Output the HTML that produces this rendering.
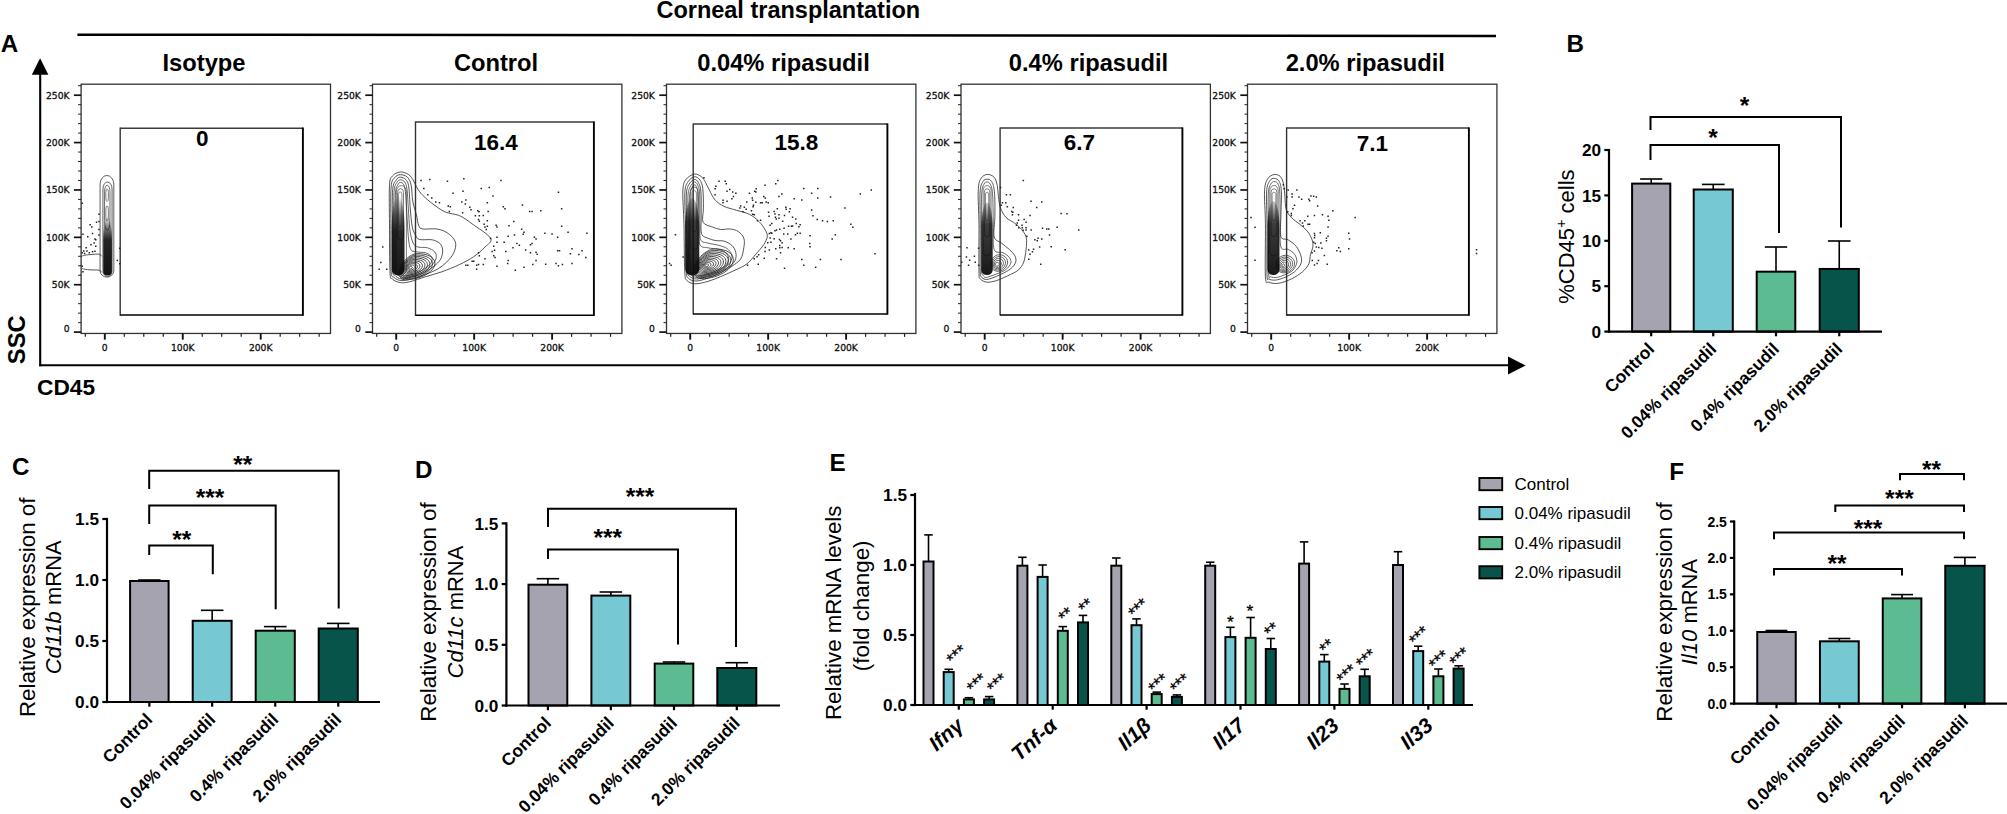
<!DOCTYPE html>
<html><head><meta charset="utf-8"><title>Figure</title>
<style>html,body{margin:0;padding:0;background:#fff;}svg{display:block}</style>
</head><body>
<svg width="2007" height="814" viewBox="0 0 2007 814">
<rect x="0" y="0" width="2007" height="814" fill="#fff"/>
<text x="0.70" y="51.90" font-family="Liberation Sans, Arial, sans-serif" font-size="24.2" font-weight="bold" font-style="normal" text-anchor="start">A</text>
<text x="788.30" y="17.80" font-family="Liberation Sans, Arial, sans-serif" font-size="23.5" font-weight="bold" font-style="normal" text-anchor="middle">Corneal transplantation</text>
<line x1="77.40" y1="34.70" x2="1496.00" y2="36.00" stroke="#000" stroke-width="2.5" stroke-linecap="butt"/>
<line x1="40.20" y1="74.00" x2="40.20" y2="366.20" stroke="#000" stroke-width="2.1" stroke-linecap="butt"/>
<line x1="39.20" y1="365.20" x2="1510.00" y2="365.30" stroke="#000" stroke-width="2.0" stroke-linecap="butt"/>
<path d="M40.1 58.2 L31.8 74.8 L48.4 74.8 Z" fill="#000" stroke="none" stroke-width="1" />
<path d="M1525.6 365.4 L1508 356.4 L1508 374.4 Z" fill="#000" stroke="none" stroke-width="1" />
<text x="24.80" y="364.20" font-family="Liberation Sans, Arial, sans-serif" font-size="23.8" font-weight="bold" font-style="normal" text-anchor="start" transform="rotate(-90 24.80 364.20)">SSC</text>
<text x="37.00" y="395.00" font-family="Liberation Sans, Arial, sans-serif" font-size="22.7" font-weight="bold" font-style="normal" text-anchor="start">CD45</text>
<text x="204.00" y="70.90" font-family="Liberation Sans, Arial, sans-serif" font-size="23.7" font-weight="bold" font-style="normal" text-anchor="middle">Isotype</text>
<rect x="81.10" y="84.20" width="249.40" height="249.25" fill="none" stroke="#333" stroke-width="1.3"/>
<line x1="73.90" y1="332.10" x2="81.10" y2="332.10" stroke="#111" stroke-width="1.7" stroke-linecap="butt"/>
<text x="69.50" y="332.40" font-family="DejaVu Sans, Liberation Sans, sans-serif" font-size="9.2" font-weight="normal" font-style="normal" text-anchor="end" fill="#111" stroke="#111" stroke-width="0.3">0</text>
<line x1="78.10" y1="322.62" x2="81.10" y2="322.62" stroke="#222" stroke-width="1.0" stroke-linecap="butt"/>
<line x1="78.10" y1="313.15" x2="81.10" y2="313.15" stroke="#222" stroke-width="1.0" stroke-linecap="butt"/>
<line x1="78.10" y1="303.67" x2="81.10" y2="303.67" stroke="#222" stroke-width="1.0" stroke-linecap="butt"/>
<line x1="78.10" y1="294.20" x2="81.10" y2="294.20" stroke="#222" stroke-width="1.0" stroke-linecap="butt"/>
<line x1="73.90" y1="284.72" x2="81.10" y2="284.72" stroke="#111" stroke-width="1.7" stroke-linecap="butt"/>
<text x="69.50" y="288.22" font-family="DejaVu Sans, Liberation Sans, sans-serif" font-size="9.2" font-weight="normal" font-style="normal" text-anchor="end" fill="#111" stroke="#111" stroke-width="0.3">50K</text>
<line x1="78.10" y1="275.24" x2="81.10" y2="275.24" stroke="#222" stroke-width="1.0" stroke-linecap="butt"/>
<line x1="78.10" y1="265.77" x2="81.10" y2="265.77" stroke="#222" stroke-width="1.0" stroke-linecap="butt"/>
<line x1="78.10" y1="256.29" x2="81.10" y2="256.29" stroke="#222" stroke-width="1.0" stroke-linecap="butt"/>
<line x1="78.10" y1="246.82" x2="81.10" y2="246.82" stroke="#222" stroke-width="1.0" stroke-linecap="butt"/>
<line x1="73.90" y1="237.34" x2="81.10" y2="237.34" stroke="#111" stroke-width="1.7" stroke-linecap="butt"/>
<text x="69.50" y="240.84" font-family="DejaVu Sans, Liberation Sans, sans-serif" font-size="9.2" font-weight="normal" font-style="normal" text-anchor="end" fill="#111" stroke="#111" stroke-width="0.3">100K</text>
<line x1="78.10" y1="227.86" x2="81.10" y2="227.86" stroke="#222" stroke-width="1.0" stroke-linecap="butt"/>
<line x1="78.10" y1="218.39" x2="81.10" y2="218.39" stroke="#222" stroke-width="1.0" stroke-linecap="butt"/>
<line x1="78.10" y1="208.91" x2="81.10" y2="208.91" stroke="#222" stroke-width="1.0" stroke-linecap="butt"/>
<line x1="78.10" y1="199.44" x2="81.10" y2="199.44" stroke="#222" stroke-width="1.0" stroke-linecap="butt"/>
<line x1="73.90" y1="189.96" x2="81.10" y2="189.96" stroke="#111" stroke-width="1.7" stroke-linecap="butt"/>
<text x="69.50" y="193.46" font-family="DejaVu Sans, Liberation Sans, sans-serif" font-size="9.2" font-weight="normal" font-style="normal" text-anchor="end" fill="#111" stroke="#111" stroke-width="0.3">150K</text>
<line x1="78.10" y1="180.48" x2="81.10" y2="180.48" stroke="#222" stroke-width="1.0" stroke-linecap="butt"/>
<line x1="78.10" y1="171.01" x2="81.10" y2="171.01" stroke="#222" stroke-width="1.0" stroke-linecap="butt"/>
<line x1="78.10" y1="161.53" x2="81.10" y2="161.53" stroke="#222" stroke-width="1.0" stroke-linecap="butt"/>
<line x1="78.10" y1="152.06" x2="81.10" y2="152.06" stroke="#222" stroke-width="1.0" stroke-linecap="butt"/>
<line x1="73.90" y1="142.58" x2="81.10" y2="142.58" stroke="#111" stroke-width="1.7" stroke-linecap="butt"/>
<text x="69.50" y="146.08" font-family="DejaVu Sans, Liberation Sans, sans-serif" font-size="9.2" font-weight="normal" font-style="normal" text-anchor="end" fill="#111" stroke="#111" stroke-width="0.3">200K</text>
<line x1="78.10" y1="133.10" x2="81.10" y2="133.10" stroke="#222" stroke-width="1.0" stroke-linecap="butt"/>
<line x1="78.10" y1="123.63" x2="81.10" y2="123.63" stroke="#222" stroke-width="1.0" stroke-linecap="butt"/>
<line x1="78.10" y1="114.15" x2="81.10" y2="114.15" stroke="#222" stroke-width="1.0" stroke-linecap="butt"/>
<line x1="78.10" y1="104.68" x2="81.10" y2="104.68" stroke="#222" stroke-width="1.0" stroke-linecap="butt"/>
<line x1="73.90" y1="95.20" x2="81.10" y2="95.20" stroke="#111" stroke-width="1.7" stroke-linecap="butt"/>
<text x="69.50" y="98.70" font-family="DejaVu Sans, Liberation Sans, sans-serif" font-size="9.2" font-weight="normal" font-style="normal" text-anchor="end" fill="#111" stroke="#111" stroke-width="0.3">250K</text>
<line x1="78.10" y1="85.72" x2="81.10" y2="85.72" stroke="#222" stroke-width="1.0" stroke-linecap="butt"/>
<line x1="85.31" y1="333.45" x2="85.31" y2="336.85" stroke="#222" stroke-width="1.2" stroke-linecap="butt"/>
<line x1="104.80" y1="333.45" x2="104.80" y2="339.65" stroke="#111" stroke-width="1.9" stroke-linecap="butt"/>
<text x="104.80" y="350.95" font-family="DejaVu Sans, Liberation Sans, sans-serif" font-size="9.2" font-weight="normal" font-style="normal" text-anchor="middle" fill="#111" stroke="#111" stroke-width="0.3">0</text>
<line x1="124.29" y1="333.45" x2="124.29" y2="336.85" stroke="#222" stroke-width="1.2" stroke-linecap="butt"/>
<line x1="143.78" y1="333.45" x2="143.78" y2="336.85" stroke="#222" stroke-width="1.2" stroke-linecap="butt"/>
<line x1="163.26" y1="333.45" x2="163.26" y2="336.85" stroke="#222" stroke-width="1.2" stroke-linecap="butt"/>
<line x1="182.75" y1="333.45" x2="182.75" y2="339.65" stroke="#111" stroke-width="1.9" stroke-linecap="butt"/>
<text x="182.75" y="350.95" font-family="DejaVu Sans, Liberation Sans, sans-serif" font-size="9.2" font-weight="normal" font-style="normal" text-anchor="middle" fill="#111" stroke="#111" stroke-width="0.3">100K</text>
<line x1="202.24" y1="333.45" x2="202.24" y2="336.85" stroke="#222" stroke-width="1.2" stroke-linecap="butt"/>
<line x1="221.72" y1="333.45" x2="221.72" y2="336.85" stroke="#222" stroke-width="1.2" stroke-linecap="butt"/>
<line x1="241.21" y1="333.45" x2="241.21" y2="336.85" stroke="#222" stroke-width="1.2" stroke-linecap="butt"/>
<line x1="260.70" y1="333.45" x2="260.70" y2="339.65" stroke="#111" stroke-width="1.9" stroke-linecap="butt"/>
<text x="260.70" y="350.95" font-family="DejaVu Sans, Liberation Sans, sans-serif" font-size="9.2" font-weight="normal" font-style="normal" text-anchor="middle" fill="#111" stroke="#111" stroke-width="0.3">200K</text>
<line x1="280.19" y1="333.45" x2="280.19" y2="336.85" stroke="#222" stroke-width="1.2" stroke-linecap="butt"/>
<line x1="299.68" y1="333.45" x2="299.68" y2="336.85" stroke="#222" stroke-width="1.2" stroke-linecap="butt"/>
<line x1="319.16" y1="333.45" x2="319.16" y2="336.85" stroke="#222" stroke-width="1.2" stroke-linecap="butt"/>
<line x1="120.20" y1="127.50" x2="120.20" y2="315.80" stroke="#333" stroke-width="1.4" stroke-linecap="butt"/>
<line x1="120.20" y1="128.20" x2="302.90" y2="128.20" stroke="#3a3a3a" stroke-width="1.5" stroke-linecap="butt"/>
<line x1="302.90" y1="127.50" x2="302.90" y2="315.85" stroke="#000" stroke-width="1.9" stroke-linecap="butt"/>
<line x1="120.20" y1="315.10" x2="302.90" y2="315.10" stroke="#000" stroke-width="1.5" stroke-linecap="butt"/>
<text x="202.20" y="145.80" font-family="Liberation Sans, Arial, sans-serif" font-size="22.5" font-weight="bold" font-style="normal" text-anchor="middle">0</text>
<text x="496.00" y="70.90" font-family="Liberation Sans, Arial, sans-serif" font-size="23.7" font-weight="bold" font-style="normal" text-anchor="middle">Control</text>
<rect x="372.50" y="84.20" width="249.40" height="249.25" fill="none" stroke="#333" stroke-width="1.3"/>
<line x1="365.30" y1="332.10" x2="372.50" y2="332.10" stroke="#111" stroke-width="1.7" stroke-linecap="butt"/>
<text x="360.90" y="332.40" font-family="DejaVu Sans, Liberation Sans, sans-serif" font-size="9.2" font-weight="normal" font-style="normal" text-anchor="end" fill="#111" stroke="#111" stroke-width="0.3">0</text>
<line x1="369.50" y1="322.62" x2="372.50" y2="322.62" stroke="#222" stroke-width="1.0" stroke-linecap="butt"/>
<line x1="369.50" y1="313.15" x2="372.50" y2="313.15" stroke="#222" stroke-width="1.0" stroke-linecap="butt"/>
<line x1="369.50" y1="303.67" x2="372.50" y2="303.67" stroke="#222" stroke-width="1.0" stroke-linecap="butt"/>
<line x1="369.50" y1="294.20" x2="372.50" y2="294.20" stroke="#222" stroke-width="1.0" stroke-linecap="butt"/>
<line x1="365.30" y1="284.72" x2="372.50" y2="284.72" stroke="#111" stroke-width="1.7" stroke-linecap="butt"/>
<text x="360.90" y="288.22" font-family="DejaVu Sans, Liberation Sans, sans-serif" font-size="9.2" font-weight="normal" font-style="normal" text-anchor="end" fill="#111" stroke="#111" stroke-width="0.3">50K</text>
<line x1="369.50" y1="275.24" x2="372.50" y2="275.24" stroke="#222" stroke-width="1.0" stroke-linecap="butt"/>
<line x1="369.50" y1="265.77" x2="372.50" y2="265.77" stroke="#222" stroke-width="1.0" stroke-linecap="butt"/>
<line x1="369.50" y1="256.29" x2="372.50" y2="256.29" stroke="#222" stroke-width="1.0" stroke-linecap="butt"/>
<line x1="369.50" y1="246.82" x2="372.50" y2="246.82" stroke="#222" stroke-width="1.0" stroke-linecap="butt"/>
<line x1="365.30" y1="237.34" x2="372.50" y2="237.34" stroke="#111" stroke-width="1.7" stroke-linecap="butt"/>
<text x="360.90" y="240.84" font-family="DejaVu Sans, Liberation Sans, sans-serif" font-size="9.2" font-weight="normal" font-style="normal" text-anchor="end" fill="#111" stroke="#111" stroke-width="0.3">100K</text>
<line x1="369.50" y1="227.86" x2="372.50" y2="227.86" stroke="#222" stroke-width="1.0" stroke-linecap="butt"/>
<line x1="369.50" y1="218.39" x2="372.50" y2="218.39" stroke="#222" stroke-width="1.0" stroke-linecap="butt"/>
<line x1="369.50" y1="208.91" x2="372.50" y2="208.91" stroke="#222" stroke-width="1.0" stroke-linecap="butt"/>
<line x1="369.50" y1="199.44" x2="372.50" y2="199.44" stroke="#222" stroke-width="1.0" stroke-linecap="butt"/>
<line x1="365.30" y1="189.96" x2="372.50" y2="189.96" stroke="#111" stroke-width="1.7" stroke-linecap="butt"/>
<text x="360.90" y="193.46" font-family="DejaVu Sans, Liberation Sans, sans-serif" font-size="9.2" font-weight="normal" font-style="normal" text-anchor="end" fill="#111" stroke="#111" stroke-width="0.3">150K</text>
<line x1="369.50" y1="180.48" x2="372.50" y2="180.48" stroke="#222" stroke-width="1.0" stroke-linecap="butt"/>
<line x1="369.50" y1="171.01" x2="372.50" y2="171.01" stroke="#222" stroke-width="1.0" stroke-linecap="butt"/>
<line x1="369.50" y1="161.53" x2="372.50" y2="161.53" stroke="#222" stroke-width="1.0" stroke-linecap="butt"/>
<line x1="369.50" y1="152.06" x2="372.50" y2="152.06" stroke="#222" stroke-width="1.0" stroke-linecap="butt"/>
<line x1="365.30" y1="142.58" x2="372.50" y2="142.58" stroke="#111" stroke-width="1.7" stroke-linecap="butt"/>
<text x="360.90" y="146.08" font-family="DejaVu Sans, Liberation Sans, sans-serif" font-size="9.2" font-weight="normal" font-style="normal" text-anchor="end" fill="#111" stroke="#111" stroke-width="0.3">200K</text>
<line x1="369.50" y1="133.10" x2="372.50" y2="133.10" stroke="#222" stroke-width="1.0" stroke-linecap="butt"/>
<line x1="369.50" y1="123.63" x2="372.50" y2="123.63" stroke="#222" stroke-width="1.0" stroke-linecap="butt"/>
<line x1="369.50" y1="114.15" x2="372.50" y2="114.15" stroke="#222" stroke-width="1.0" stroke-linecap="butt"/>
<line x1="369.50" y1="104.68" x2="372.50" y2="104.68" stroke="#222" stroke-width="1.0" stroke-linecap="butt"/>
<line x1="365.30" y1="95.20" x2="372.50" y2="95.20" stroke="#111" stroke-width="1.7" stroke-linecap="butt"/>
<text x="360.90" y="98.70" font-family="DejaVu Sans, Liberation Sans, sans-serif" font-size="9.2" font-weight="normal" font-style="normal" text-anchor="end" fill="#111" stroke="#111" stroke-width="0.3">250K</text>
<line x1="369.50" y1="85.72" x2="372.50" y2="85.72" stroke="#222" stroke-width="1.0" stroke-linecap="butt"/>
<line x1="376.71" y1="333.45" x2="376.71" y2="336.85" stroke="#222" stroke-width="1.2" stroke-linecap="butt"/>
<line x1="396.20" y1="333.45" x2="396.20" y2="339.65" stroke="#111" stroke-width="1.9" stroke-linecap="butt"/>
<text x="396.20" y="350.95" font-family="DejaVu Sans, Liberation Sans, sans-serif" font-size="9.2" font-weight="normal" font-style="normal" text-anchor="middle" fill="#111" stroke="#111" stroke-width="0.3">0</text>
<line x1="415.69" y1="333.45" x2="415.69" y2="336.85" stroke="#222" stroke-width="1.2" stroke-linecap="butt"/>
<line x1="435.18" y1="333.45" x2="435.18" y2="336.85" stroke="#222" stroke-width="1.2" stroke-linecap="butt"/>
<line x1="454.66" y1="333.45" x2="454.66" y2="336.85" stroke="#222" stroke-width="1.2" stroke-linecap="butt"/>
<line x1="474.15" y1="333.45" x2="474.15" y2="339.65" stroke="#111" stroke-width="1.9" stroke-linecap="butt"/>
<text x="474.15" y="350.95" font-family="DejaVu Sans, Liberation Sans, sans-serif" font-size="9.2" font-weight="normal" font-style="normal" text-anchor="middle" fill="#111" stroke="#111" stroke-width="0.3">100K</text>
<line x1="493.64" y1="333.45" x2="493.64" y2="336.85" stroke="#222" stroke-width="1.2" stroke-linecap="butt"/>
<line x1="513.12" y1="333.45" x2="513.12" y2="336.85" stroke="#222" stroke-width="1.2" stroke-linecap="butt"/>
<line x1="532.61" y1="333.45" x2="532.61" y2="336.85" stroke="#222" stroke-width="1.2" stroke-linecap="butt"/>
<line x1="552.10" y1="333.45" x2="552.10" y2="339.65" stroke="#111" stroke-width="1.9" stroke-linecap="butt"/>
<text x="552.10" y="350.95" font-family="DejaVu Sans, Liberation Sans, sans-serif" font-size="9.2" font-weight="normal" font-style="normal" text-anchor="middle" fill="#111" stroke="#111" stroke-width="0.3">200K</text>
<line x1="571.59" y1="333.45" x2="571.59" y2="336.85" stroke="#222" stroke-width="1.2" stroke-linecap="butt"/>
<line x1="591.08" y1="333.45" x2="591.08" y2="336.85" stroke="#222" stroke-width="1.2" stroke-linecap="butt"/>
<line x1="610.56" y1="333.45" x2="610.56" y2="336.85" stroke="#222" stroke-width="1.2" stroke-linecap="butt"/>
<line x1="415.50" y1="121.40" x2="415.50" y2="315.90" stroke="#333" stroke-width="1.4" stroke-linecap="butt"/>
<line x1="415.50" y1="122.10" x2="593.90" y2="122.10" stroke="#3a3a3a" stroke-width="1.5" stroke-linecap="butt"/>
<line x1="593.90" y1="121.40" x2="593.90" y2="315.95" stroke="#000" stroke-width="1.9" stroke-linecap="butt"/>
<line x1="415.50" y1="315.20" x2="593.90" y2="315.20" stroke="#000" stroke-width="1.5" stroke-linecap="butt"/>
<text x="496.00" y="150.00" font-family="Liberation Sans, Arial, sans-serif" font-size="22.5" font-weight="bold" font-style="normal" text-anchor="middle">16.4</text>
<text x="783.50" y="70.90" font-family="Liberation Sans, Arial, sans-serif" font-size="23.7" font-weight="bold" font-style="normal" text-anchor="middle">0.04% ripasudil</text>
<rect x="666.50" y="84.20" width="249.40" height="249.25" fill="none" stroke="#333" stroke-width="1.3"/>
<line x1="659.30" y1="332.10" x2="666.50" y2="332.10" stroke="#111" stroke-width="1.7" stroke-linecap="butt"/>
<text x="654.90" y="332.40" font-family="DejaVu Sans, Liberation Sans, sans-serif" font-size="9.2" font-weight="normal" font-style="normal" text-anchor="end" fill="#111" stroke="#111" stroke-width="0.3">0</text>
<line x1="663.50" y1="322.62" x2="666.50" y2="322.62" stroke="#222" stroke-width="1.0" stroke-linecap="butt"/>
<line x1="663.50" y1="313.15" x2="666.50" y2="313.15" stroke="#222" stroke-width="1.0" stroke-linecap="butt"/>
<line x1="663.50" y1="303.67" x2="666.50" y2="303.67" stroke="#222" stroke-width="1.0" stroke-linecap="butt"/>
<line x1="663.50" y1="294.20" x2="666.50" y2="294.20" stroke="#222" stroke-width="1.0" stroke-linecap="butt"/>
<line x1="659.30" y1="284.72" x2="666.50" y2="284.72" stroke="#111" stroke-width="1.7" stroke-linecap="butt"/>
<text x="654.90" y="288.22" font-family="DejaVu Sans, Liberation Sans, sans-serif" font-size="9.2" font-weight="normal" font-style="normal" text-anchor="end" fill="#111" stroke="#111" stroke-width="0.3">50K</text>
<line x1="663.50" y1="275.24" x2="666.50" y2="275.24" stroke="#222" stroke-width="1.0" stroke-linecap="butt"/>
<line x1="663.50" y1="265.77" x2="666.50" y2="265.77" stroke="#222" stroke-width="1.0" stroke-linecap="butt"/>
<line x1="663.50" y1="256.29" x2="666.50" y2="256.29" stroke="#222" stroke-width="1.0" stroke-linecap="butt"/>
<line x1="663.50" y1="246.82" x2="666.50" y2="246.82" stroke="#222" stroke-width="1.0" stroke-linecap="butt"/>
<line x1="659.30" y1="237.34" x2="666.50" y2="237.34" stroke="#111" stroke-width="1.7" stroke-linecap="butt"/>
<text x="654.90" y="240.84" font-family="DejaVu Sans, Liberation Sans, sans-serif" font-size="9.2" font-weight="normal" font-style="normal" text-anchor="end" fill="#111" stroke="#111" stroke-width="0.3">100K</text>
<line x1="663.50" y1="227.86" x2="666.50" y2="227.86" stroke="#222" stroke-width="1.0" stroke-linecap="butt"/>
<line x1="663.50" y1="218.39" x2="666.50" y2="218.39" stroke="#222" stroke-width="1.0" stroke-linecap="butt"/>
<line x1="663.50" y1="208.91" x2="666.50" y2="208.91" stroke="#222" stroke-width="1.0" stroke-linecap="butt"/>
<line x1="663.50" y1="199.44" x2="666.50" y2="199.44" stroke="#222" stroke-width="1.0" stroke-linecap="butt"/>
<line x1="659.30" y1="189.96" x2="666.50" y2="189.96" stroke="#111" stroke-width="1.7" stroke-linecap="butt"/>
<text x="654.90" y="193.46" font-family="DejaVu Sans, Liberation Sans, sans-serif" font-size="9.2" font-weight="normal" font-style="normal" text-anchor="end" fill="#111" stroke="#111" stroke-width="0.3">150K</text>
<line x1="663.50" y1="180.48" x2="666.50" y2="180.48" stroke="#222" stroke-width="1.0" stroke-linecap="butt"/>
<line x1="663.50" y1="171.01" x2="666.50" y2="171.01" stroke="#222" stroke-width="1.0" stroke-linecap="butt"/>
<line x1="663.50" y1="161.53" x2="666.50" y2="161.53" stroke="#222" stroke-width="1.0" stroke-linecap="butt"/>
<line x1="663.50" y1="152.06" x2="666.50" y2="152.06" stroke="#222" stroke-width="1.0" stroke-linecap="butt"/>
<line x1="659.30" y1="142.58" x2="666.50" y2="142.58" stroke="#111" stroke-width="1.7" stroke-linecap="butt"/>
<text x="654.90" y="146.08" font-family="DejaVu Sans, Liberation Sans, sans-serif" font-size="9.2" font-weight="normal" font-style="normal" text-anchor="end" fill="#111" stroke="#111" stroke-width="0.3">200K</text>
<line x1="663.50" y1="133.10" x2="666.50" y2="133.10" stroke="#222" stroke-width="1.0" stroke-linecap="butt"/>
<line x1="663.50" y1="123.63" x2="666.50" y2="123.63" stroke="#222" stroke-width="1.0" stroke-linecap="butt"/>
<line x1="663.50" y1="114.15" x2="666.50" y2="114.15" stroke="#222" stroke-width="1.0" stroke-linecap="butt"/>
<line x1="663.50" y1="104.68" x2="666.50" y2="104.68" stroke="#222" stroke-width="1.0" stroke-linecap="butt"/>
<line x1="659.30" y1="95.20" x2="666.50" y2="95.20" stroke="#111" stroke-width="1.7" stroke-linecap="butt"/>
<text x="654.90" y="98.70" font-family="DejaVu Sans, Liberation Sans, sans-serif" font-size="9.2" font-weight="normal" font-style="normal" text-anchor="end" fill="#111" stroke="#111" stroke-width="0.3">250K</text>
<line x1="663.50" y1="85.72" x2="666.50" y2="85.72" stroke="#222" stroke-width="1.0" stroke-linecap="butt"/>
<line x1="670.71" y1="333.45" x2="670.71" y2="336.85" stroke="#222" stroke-width="1.2" stroke-linecap="butt"/>
<line x1="690.20" y1="333.45" x2="690.20" y2="339.65" stroke="#111" stroke-width="1.9" stroke-linecap="butt"/>
<text x="690.20" y="350.95" font-family="DejaVu Sans, Liberation Sans, sans-serif" font-size="9.2" font-weight="normal" font-style="normal" text-anchor="middle" fill="#111" stroke="#111" stroke-width="0.3">0</text>
<line x1="709.69" y1="333.45" x2="709.69" y2="336.85" stroke="#222" stroke-width="1.2" stroke-linecap="butt"/>
<line x1="729.18" y1="333.45" x2="729.18" y2="336.85" stroke="#222" stroke-width="1.2" stroke-linecap="butt"/>
<line x1="748.66" y1="333.45" x2="748.66" y2="336.85" stroke="#222" stroke-width="1.2" stroke-linecap="butt"/>
<line x1="768.15" y1="333.45" x2="768.15" y2="339.65" stroke="#111" stroke-width="1.9" stroke-linecap="butt"/>
<text x="768.15" y="350.95" font-family="DejaVu Sans, Liberation Sans, sans-serif" font-size="9.2" font-weight="normal" font-style="normal" text-anchor="middle" fill="#111" stroke="#111" stroke-width="0.3">100K</text>
<line x1="787.64" y1="333.45" x2="787.64" y2="336.85" stroke="#222" stroke-width="1.2" stroke-linecap="butt"/>
<line x1="807.12" y1="333.45" x2="807.12" y2="336.85" stroke="#222" stroke-width="1.2" stroke-linecap="butt"/>
<line x1="826.61" y1="333.45" x2="826.61" y2="336.85" stroke="#222" stroke-width="1.2" stroke-linecap="butt"/>
<line x1="846.10" y1="333.45" x2="846.10" y2="339.65" stroke="#111" stroke-width="1.9" stroke-linecap="butt"/>
<text x="846.10" y="350.95" font-family="DejaVu Sans, Liberation Sans, sans-serif" font-size="9.2" font-weight="normal" font-style="normal" text-anchor="middle" fill="#111" stroke="#111" stroke-width="0.3">200K</text>
<line x1="865.59" y1="333.45" x2="865.59" y2="336.85" stroke="#222" stroke-width="1.2" stroke-linecap="butt"/>
<line x1="885.08" y1="333.45" x2="885.08" y2="336.85" stroke="#222" stroke-width="1.2" stroke-linecap="butt"/>
<line x1="904.56" y1="333.45" x2="904.56" y2="336.85" stroke="#222" stroke-width="1.2" stroke-linecap="butt"/>
<line x1="693.20" y1="123.40" x2="693.20" y2="314.60" stroke="#333" stroke-width="1.4" stroke-linecap="butt"/>
<line x1="693.20" y1="124.10" x2="887.40" y2="124.10" stroke="#3a3a3a" stroke-width="1.5" stroke-linecap="butt"/>
<line x1="887.40" y1="123.40" x2="887.40" y2="314.65" stroke="#000" stroke-width="1.9" stroke-linecap="butt"/>
<line x1="693.20" y1="313.90" x2="887.40" y2="313.90" stroke="#000" stroke-width="1.5" stroke-linecap="butt"/>
<text x="796.30" y="150.00" font-family="Liberation Sans, Arial, sans-serif" font-size="22.5" font-weight="bold" font-style="normal" text-anchor="middle">15.8</text>
<text x="1088.50" y="70.90" font-family="Liberation Sans, Arial, sans-serif" font-size="23.7" font-weight="bold" font-style="normal" text-anchor="middle">0.4% ripasudil</text>
<rect x="961.00" y="84.20" width="249.40" height="249.25" fill="none" stroke="#333" stroke-width="1.3"/>
<line x1="953.80" y1="332.10" x2="961.00" y2="332.10" stroke="#111" stroke-width="1.7" stroke-linecap="butt"/>
<text x="949.40" y="332.40" font-family="DejaVu Sans, Liberation Sans, sans-serif" font-size="9.2" font-weight="normal" font-style="normal" text-anchor="end" fill="#111" stroke="#111" stroke-width="0.3">0</text>
<line x1="958.00" y1="322.62" x2="961.00" y2="322.62" stroke="#222" stroke-width="1.0" stroke-linecap="butt"/>
<line x1="958.00" y1="313.15" x2="961.00" y2="313.15" stroke="#222" stroke-width="1.0" stroke-linecap="butt"/>
<line x1="958.00" y1="303.67" x2="961.00" y2="303.67" stroke="#222" stroke-width="1.0" stroke-linecap="butt"/>
<line x1="958.00" y1="294.20" x2="961.00" y2="294.20" stroke="#222" stroke-width="1.0" stroke-linecap="butt"/>
<line x1="953.80" y1="284.72" x2="961.00" y2="284.72" stroke="#111" stroke-width="1.7" stroke-linecap="butt"/>
<text x="949.40" y="288.22" font-family="DejaVu Sans, Liberation Sans, sans-serif" font-size="9.2" font-weight="normal" font-style="normal" text-anchor="end" fill="#111" stroke="#111" stroke-width="0.3">50K</text>
<line x1="958.00" y1="275.24" x2="961.00" y2="275.24" stroke="#222" stroke-width="1.0" stroke-linecap="butt"/>
<line x1="958.00" y1="265.77" x2="961.00" y2="265.77" stroke="#222" stroke-width="1.0" stroke-linecap="butt"/>
<line x1="958.00" y1="256.29" x2="961.00" y2="256.29" stroke="#222" stroke-width="1.0" stroke-linecap="butt"/>
<line x1="958.00" y1="246.82" x2="961.00" y2="246.82" stroke="#222" stroke-width="1.0" stroke-linecap="butt"/>
<line x1="953.80" y1="237.34" x2="961.00" y2="237.34" stroke="#111" stroke-width="1.7" stroke-linecap="butt"/>
<text x="949.40" y="240.84" font-family="DejaVu Sans, Liberation Sans, sans-serif" font-size="9.2" font-weight="normal" font-style="normal" text-anchor="end" fill="#111" stroke="#111" stroke-width="0.3">100K</text>
<line x1="958.00" y1="227.86" x2="961.00" y2="227.86" stroke="#222" stroke-width="1.0" stroke-linecap="butt"/>
<line x1="958.00" y1="218.39" x2="961.00" y2="218.39" stroke="#222" stroke-width="1.0" stroke-linecap="butt"/>
<line x1="958.00" y1="208.91" x2="961.00" y2="208.91" stroke="#222" stroke-width="1.0" stroke-linecap="butt"/>
<line x1="958.00" y1="199.44" x2="961.00" y2="199.44" stroke="#222" stroke-width="1.0" stroke-linecap="butt"/>
<line x1="953.80" y1="189.96" x2="961.00" y2="189.96" stroke="#111" stroke-width="1.7" stroke-linecap="butt"/>
<text x="949.40" y="193.46" font-family="DejaVu Sans, Liberation Sans, sans-serif" font-size="9.2" font-weight="normal" font-style="normal" text-anchor="end" fill="#111" stroke="#111" stroke-width="0.3">150K</text>
<line x1="958.00" y1="180.48" x2="961.00" y2="180.48" stroke="#222" stroke-width="1.0" stroke-linecap="butt"/>
<line x1="958.00" y1="171.01" x2="961.00" y2="171.01" stroke="#222" stroke-width="1.0" stroke-linecap="butt"/>
<line x1="958.00" y1="161.53" x2="961.00" y2="161.53" stroke="#222" stroke-width="1.0" stroke-linecap="butt"/>
<line x1="958.00" y1="152.06" x2="961.00" y2="152.06" stroke="#222" stroke-width="1.0" stroke-linecap="butt"/>
<line x1="953.80" y1="142.58" x2="961.00" y2="142.58" stroke="#111" stroke-width="1.7" stroke-linecap="butt"/>
<text x="949.40" y="146.08" font-family="DejaVu Sans, Liberation Sans, sans-serif" font-size="9.2" font-weight="normal" font-style="normal" text-anchor="end" fill="#111" stroke="#111" stroke-width="0.3">200K</text>
<line x1="958.00" y1="133.10" x2="961.00" y2="133.10" stroke="#222" stroke-width="1.0" stroke-linecap="butt"/>
<line x1="958.00" y1="123.63" x2="961.00" y2="123.63" stroke="#222" stroke-width="1.0" stroke-linecap="butt"/>
<line x1="958.00" y1="114.15" x2="961.00" y2="114.15" stroke="#222" stroke-width="1.0" stroke-linecap="butt"/>
<line x1="958.00" y1="104.68" x2="961.00" y2="104.68" stroke="#222" stroke-width="1.0" stroke-linecap="butt"/>
<line x1="953.80" y1="95.20" x2="961.00" y2="95.20" stroke="#111" stroke-width="1.7" stroke-linecap="butt"/>
<text x="949.40" y="98.70" font-family="DejaVu Sans, Liberation Sans, sans-serif" font-size="9.2" font-weight="normal" font-style="normal" text-anchor="end" fill="#111" stroke="#111" stroke-width="0.3">250K</text>
<line x1="958.00" y1="85.72" x2="961.00" y2="85.72" stroke="#222" stroke-width="1.0" stroke-linecap="butt"/>
<line x1="965.21" y1="333.45" x2="965.21" y2="336.85" stroke="#222" stroke-width="1.2" stroke-linecap="butt"/>
<line x1="984.70" y1="333.45" x2="984.70" y2="339.65" stroke="#111" stroke-width="1.9" stroke-linecap="butt"/>
<text x="984.70" y="350.95" font-family="DejaVu Sans, Liberation Sans, sans-serif" font-size="9.2" font-weight="normal" font-style="normal" text-anchor="middle" fill="#111" stroke="#111" stroke-width="0.3">0</text>
<line x1="1004.19" y1="333.45" x2="1004.19" y2="336.85" stroke="#222" stroke-width="1.2" stroke-linecap="butt"/>
<line x1="1023.68" y1="333.45" x2="1023.68" y2="336.85" stroke="#222" stroke-width="1.2" stroke-linecap="butt"/>
<line x1="1043.16" y1="333.45" x2="1043.16" y2="336.85" stroke="#222" stroke-width="1.2" stroke-linecap="butt"/>
<line x1="1062.65" y1="333.45" x2="1062.65" y2="339.65" stroke="#111" stroke-width="1.9" stroke-linecap="butt"/>
<text x="1062.65" y="350.95" font-family="DejaVu Sans, Liberation Sans, sans-serif" font-size="9.2" font-weight="normal" font-style="normal" text-anchor="middle" fill="#111" stroke="#111" stroke-width="0.3">100K</text>
<line x1="1082.14" y1="333.45" x2="1082.14" y2="336.85" stroke="#222" stroke-width="1.2" stroke-linecap="butt"/>
<line x1="1101.62" y1="333.45" x2="1101.62" y2="336.85" stroke="#222" stroke-width="1.2" stroke-linecap="butt"/>
<line x1="1121.11" y1="333.45" x2="1121.11" y2="336.85" stroke="#222" stroke-width="1.2" stroke-linecap="butt"/>
<line x1="1140.60" y1="333.45" x2="1140.60" y2="339.65" stroke="#111" stroke-width="1.9" stroke-linecap="butt"/>
<text x="1140.60" y="350.95" font-family="DejaVu Sans, Liberation Sans, sans-serif" font-size="9.2" font-weight="normal" font-style="normal" text-anchor="middle" fill="#111" stroke="#111" stroke-width="0.3">200K</text>
<line x1="1160.09" y1="333.45" x2="1160.09" y2="336.85" stroke="#222" stroke-width="1.2" stroke-linecap="butt"/>
<line x1="1179.58" y1="333.45" x2="1179.58" y2="336.85" stroke="#222" stroke-width="1.2" stroke-linecap="butt"/>
<line x1="1199.06" y1="333.45" x2="1199.06" y2="336.85" stroke="#222" stroke-width="1.2" stroke-linecap="butt"/>
<line x1="1000.10" y1="127.40" x2="1000.10" y2="315.60" stroke="#333" stroke-width="1.4" stroke-linecap="butt"/>
<line x1="1000.10" y1="128.10" x2="1182.40" y2="128.10" stroke="#3a3a3a" stroke-width="1.5" stroke-linecap="butt"/>
<line x1="1182.40" y1="127.40" x2="1182.40" y2="315.65" stroke="#000" stroke-width="1.9" stroke-linecap="butt"/>
<line x1="1000.10" y1="314.90" x2="1182.40" y2="314.90" stroke="#000" stroke-width="1.5" stroke-linecap="butt"/>
<text x="1079.40" y="150.00" font-family="Liberation Sans, Arial, sans-serif" font-size="22.5" font-weight="bold" font-style="normal" text-anchor="middle">6.7</text>
<text x="1365.30" y="70.90" font-family="Liberation Sans, Arial, sans-serif" font-size="23.7" font-weight="bold" font-style="normal" text-anchor="middle">2.0% ripasudil</text>
<rect x="1247.50" y="84.20" width="249.40" height="249.25" fill="none" stroke="#333" stroke-width="1.3"/>
<line x1="1240.30" y1="332.10" x2="1247.50" y2="332.10" stroke="#111" stroke-width="1.7" stroke-linecap="butt"/>
<text x="1235.90" y="332.40" font-family="DejaVu Sans, Liberation Sans, sans-serif" font-size="9.2" font-weight="normal" font-style="normal" text-anchor="end" fill="#111" stroke="#111" stroke-width="0.3">0</text>
<line x1="1244.50" y1="322.62" x2="1247.50" y2="322.62" stroke="#222" stroke-width="1.0" stroke-linecap="butt"/>
<line x1="1244.50" y1="313.15" x2="1247.50" y2="313.15" stroke="#222" stroke-width="1.0" stroke-linecap="butt"/>
<line x1="1244.50" y1="303.67" x2="1247.50" y2="303.67" stroke="#222" stroke-width="1.0" stroke-linecap="butt"/>
<line x1="1244.50" y1="294.20" x2="1247.50" y2="294.20" stroke="#222" stroke-width="1.0" stroke-linecap="butt"/>
<line x1="1240.30" y1="284.72" x2="1247.50" y2="284.72" stroke="#111" stroke-width="1.7" stroke-linecap="butt"/>
<text x="1235.90" y="288.22" font-family="DejaVu Sans, Liberation Sans, sans-serif" font-size="9.2" font-weight="normal" font-style="normal" text-anchor="end" fill="#111" stroke="#111" stroke-width="0.3">50K</text>
<line x1="1244.50" y1="275.24" x2="1247.50" y2="275.24" stroke="#222" stroke-width="1.0" stroke-linecap="butt"/>
<line x1="1244.50" y1="265.77" x2="1247.50" y2="265.77" stroke="#222" stroke-width="1.0" stroke-linecap="butt"/>
<line x1="1244.50" y1="256.29" x2="1247.50" y2="256.29" stroke="#222" stroke-width="1.0" stroke-linecap="butt"/>
<line x1="1244.50" y1="246.82" x2="1247.50" y2="246.82" stroke="#222" stroke-width="1.0" stroke-linecap="butt"/>
<line x1="1240.30" y1="237.34" x2="1247.50" y2="237.34" stroke="#111" stroke-width="1.7" stroke-linecap="butt"/>
<text x="1235.90" y="240.84" font-family="DejaVu Sans, Liberation Sans, sans-serif" font-size="9.2" font-weight="normal" font-style="normal" text-anchor="end" fill="#111" stroke="#111" stroke-width="0.3">100K</text>
<line x1="1244.50" y1="227.86" x2="1247.50" y2="227.86" stroke="#222" stroke-width="1.0" stroke-linecap="butt"/>
<line x1="1244.50" y1="218.39" x2="1247.50" y2="218.39" stroke="#222" stroke-width="1.0" stroke-linecap="butt"/>
<line x1="1244.50" y1="208.91" x2="1247.50" y2="208.91" stroke="#222" stroke-width="1.0" stroke-linecap="butt"/>
<line x1="1244.50" y1="199.44" x2="1247.50" y2="199.44" stroke="#222" stroke-width="1.0" stroke-linecap="butt"/>
<line x1="1240.30" y1="189.96" x2="1247.50" y2="189.96" stroke="#111" stroke-width="1.7" stroke-linecap="butt"/>
<text x="1235.90" y="193.46" font-family="DejaVu Sans, Liberation Sans, sans-serif" font-size="9.2" font-weight="normal" font-style="normal" text-anchor="end" fill="#111" stroke="#111" stroke-width="0.3">150K</text>
<line x1="1244.50" y1="180.48" x2="1247.50" y2="180.48" stroke="#222" stroke-width="1.0" stroke-linecap="butt"/>
<line x1="1244.50" y1="171.01" x2="1247.50" y2="171.01" stroke="#222" stroke-width="1.0" stroke-linecap="butt"/>
<line x1="1244.50" y1="161.53" x2="1247.50" y2="161.53" stroke="#222" stroke-width="1.0" stroke-linecap="butt"/>
<line x1="1244.50" y1="152.06" x2="1247.50" y2="152.06" stroke="#222" stroke-width="1.0" stroke-linecap="butt"/>
<line x1="1240.30" y1="142.58" x2="1247.50" y2="142.58" stroke="#111" stroke-width="1.7" stroke-linecap="butt"/>
<text x="1235.90" y="146.08" font-family="DejaVu Sans, Liberation Sans, sans-serif" font-size="9.2" font-weight="normal" font-style="normal" text-anchor="end" fill="#111" stroke="#111" stroke-width="0.3">200K</text>
<line x1="1244.50" y1="133.10" x2="1247.50" y2="133.10" stroke="#222" stroke-width="1.0" stroke-linecap="butt"/>
<line x1="1244.50" y1="123.63" x2="1247.50" y2="123.63" stroke="#222" stroke-width="1.0" stroke-linecap="butt"/>
<line x1="1244.50" y1="114.15" x2="1247.50" y2="114.15" stroke="#222" stroke-width="1.0" stroke-linecap="butt"/>
<line x1="1244.50" y1="104.68" x2="1247.50" y2="104.68" stroke="#222" stroke-width="1.0" stroke-linecap="butt"/>
<line x1="1240.30" y1="95.20" x2="1247.50" y2="95.20" stroke="#111" stroke-width="1.7" stroke-linecap="butt"/>
<text x="1235.90" y="98.70" font-family="DejaVu Sans, Liberation Sans, sans-serif" font-size="9.2" font-weight="normal" font-style="normal" text-anchor="end" fill="#111" stroke="#111" stroke-width="0.3">250K</text>
<line x1="1244.50" y1="85.72" x2="1247.50" y2="85.72" stroke="#222" stroke-width="1.0" stroke-linecap="butt"/>
<line x1="1251.71" y1="333.45" x2="1251.71" y2="336.85" stroke="#222" stroke-width="1.2" stroke-linecap="butt"/>
<line x1="1271.20" y1="333.45" x2="1271.20" y2="339.65" stroke="#111" stroke-width="1.9" stroke-linecap="butt"/>
<text x="1271.20" y="350.95" font-family="DejaVu Sans, Liberation Sans, sans-serif" font-size="9.2" font-weight="normal" font-style="normal" text-anchor="middle" fill="#111" stroke="#111" stroke-width="0.3">0</text>
<line x1="1290.69" y1="333.45" x2="1290.69" y2="336.85" stroke="#222" stroke-width="1.2" stroke-linecap="butt"/>
<line x1="1310.17" y1="333.45" x2="1310.17" y2="336.85" stroke="#222" stroke-width="1.2" stroke-linecap="butt"/>
<line x1="1329.66" y1="333.45" x2="1329.66" y2="336.85" stroke="#222" stroke-width="1.2" stroke-linecap="butt"/>
<line x1="1349.15" y1="333.45" x2="1349.15" y2="339.65" stroke="#111" stroke-width="1.9" stroke-linecap="butt"/>
<text x="1349.15" y="350.95" font-family="DejaVu Sans, Liberation Sans, sans-serif" font-size="9.2" font-weight="normal" font-style="normal" text-anchor="middle" fill="#111" stroke="#111" stroke-width="0.3">100K</text>
<line x1="1368.64" y1="333.45" x2="1368.64" y2="336.85" stroke="#222" stroke-width="1.2" stroke-linecap="butt"/>
<line x1="1388.12" y1="333.45" x2="1388.12" y2="336.85" stroke="#222" stroke-width="1.2" stroke-linecap="butt"/>
<line x1="1407.61" y1="333.45" x2="1407.61" y2="336.85" stroke="#222" stroke-width="1.2" stroke-linecap="butt"/>
<line x1="1427.10" y1="333.45" x2="1427.10" y2="339.65" stroke="#111" stroke-width="1.9" stroke-linecap="butt"/>
<text x="1427.10" y="350.95" font-family="DejaVu Sans, Liberation Sans, sans-serif" font-size="9.2" font-weight="normal" font-style="normal" text-anchor="middle" fill="#111" stroke="#111" stroke-width="0.3">200K</text>
<line x1="1446.59" y1="333.45" x2="1446.59" y2="336.85" stroke="#222" stroke-width="1.2" stroke-linecap="butt"/>
<line x1="1466.08" y1="333.45" x2="1466.08" y2="336.85" stroke="#222" stroke-width="1.2" stroke-linecap="butt"/>
<line x1="1485.56" y1="333.45" x2="1485.56" y2="336.85" stroke="#222" stroke-width="1.2" stroke-linecap="butt"/>
<line x1="1286.60" y1="127.40" x2="1286.60" y2="315.70" stroke="#333" stroke-width="1.4" stroke-linecap="butt"/>
<line x1="1286.60" y1="128.10" x2="1468.90" y2="128.10" stroke="#3a3a3a" stroke-width="1.5" stroke-linecap="butt"/>
<line x1="1468.90" y1="127.40" x2="1468.90" y2="315.75" stroke="#000" stroke-width="1.9" stroke-linecap="butt"/>
<line x1="1286.60" y1="315.00" x2="1468.90" y2="315.00" stroke="#000" stroke-width="1.5" stroke-linecap="butt"/>
<text x="1372.50" y="151.00" font-family="Liberation Sans, Arial, sans-serif" font-size="22.5" font-weight="bold" font-style="normal" text-anchor="middle">7.1</text>
<path d="M100.07 183.95 A6.87 8.78 0 0 1 113.80 183.95 L113.80 270.98 A6.87 6.39 0 0 1 100.07 270.98 Z" fill="none" stroke="#2a2a2a" stroke-width="0.75" stroke-opacity="1.0" fill-opacity="1.0"/>
<path d="M102.94 189.22 A4.55 7.19 0 0 1 112.05 189.22 L112.05 271.46 A4.55 4.79 0 0 1 102.94 271.46 Z" fill="none" stroke="#2a2a2a" stroke-width="0.75" stroke-opacity="1.0" fill-opacity="1.0"/>
<path d="M104.54 191.62 A2.71 6.39 0 0 1 109.97 191.62 L109.97 220.68 A2.71 9.58 0 0 1 104.54 220.68 Z" fill="none" stroke="#2a2a2a" stroke-width="0.75" stroke-opacity="0.9" fill-opacity="1.0"/>
<path d="M105.82 192.42 A1.28 3.99 0 0 1 108.37 192.42 L108.37 197.84 A1.28 3.99 0 0 1 105.82 197.84 Z" fill="none" stroke="#2a2a2a" stroke-width="0.75" stroke-opacity="0.8" fill-opacity="1.0"/>
<path d="M105.82 209.50 A1.28 3.99 0 0 1 108.37 209.50 L108.37 217.49 A1.28 3.99 0 0 1 105.82 217.49 Z" fill="none" stroke="#2a2a2a" stroke-width="0.75" stroke-opacity="0.8" fill-opacity="1.0"/>
<defs><linearGradient id="g1" x1="0" y1="0" x2="0" y2="1"><stop offset="0" stop-color="#0c0c0c" stop-opacity="0.0"/><stop offset="0.2" stop-color="#0c0c0c" stop-opacity="0.55"/><stop offset="0.4" stop-color="#0c0c0c" stop-opacity="0.9"/><stop offset="1" stop-color="#0c0c0c" stop-opacity="0.97"/></linearGradient></defs>
<path d="M103.26 241.44 A4.31 25.55 0 0 1 111.89 241.44 L111.89 271.57 A4.31 3.88 0 0 1 103.26 271.57 Z" fill="url(#g1)" stroke="none" stroke-width="1" />
<path d="M81.7 256.3 C82.2 256.1 83.0 255.6 84.6 255.3 C86.1 255.0 88.6 254.7 91.0 254.5 C93.4 254.3 97.1 253.9 99.0 254.2 C100.8 254.5 101.3 255.9 101.8 256.3" fill="none" stroke="#2a2a2a" stroke-width="0.8" stroke-opacity="1.0"/>
<path d="M81.7 268.3 C82.2 268.4 83.0 269.0 84.6 269.2 C86.1 269.5 88.6 269.7 91.0 269.9 C93.4 270.0 97.1 269.8 99.0 270.2 C100.8 270.6 101.3 271.9 101.8 272.3" fill="none" stroke="#2a2a2a" stroke-width="0.8" stroke-opacity="1.0"/>
<path d="M81.4 202.4h1.5v1.5h-1.5zM98.2 213.5h1.5v1.5h-1.5zM89.4 223.9h1.5v1.5h-1.5zM95.8 221.5h1.5v1.5h-1.5zM91.0 226.3h1.5v1.5h-1.5zM98.2 220.7h1.5v1.5h-1.5zM98.2 228.7h1.5v1.5h-1.5zM82.2 233.5h1.5v1.5h-1.5zM91.8 232.7h1.5v1.5h-1.5zM98.2 234.3h1.5v1.5h-1.5zM87.0 235.9h1.5v1.5h-1.5zM94.2 238.3h1.5v1.5h-1.5zM95.0 239.1h1.5v1.5h-1.5zM93.4 242.3h1.5v1.5h-1.5zM90.2 243.9h1.5v1.5h-1.5zM95.0 245.5h1.5v1.5h-1.5zM85.4 247.1h1.5v1.5h-1.5zM83.0 250.3h1.5v1.5h-1.5zM86.2 250.3h1.5v1.5h-1.5zM81.4 251.9h1.5v1.5h-1.5zM91.8 251.1h1.5v1.5h-1.5zM94.2 250.6h1.5v1.5h-1.5zM116.6 259.8h1.5v1.5h-1.5zM119.0 247.6h1.5v1.5h-1.5zM119.0 263.0h1.5v1.5h-1.5zM81.4 265.4h1.5v1.5h-1.5zM82.2 271.0h1.5v1.5h-1.5zM83.8 252.7h1.5v1.5h-1.5zM88.6 251.9h1.5v1.5h-1.5z" fill="#222" stroke="none" stroke-width="1" />
<path d="M400.3 172.0 C403.0 171.7 406.2 173.0 408.3 174.4 C410.5 175.7 411.8 178.0 413.1 180.0 C414.4 182.0 415.0 184.1 416.3 186.3 C417.6 188.6 418.7 190.9 421.1 193.5 C423.5 196.2 426.7 199.3 430.7 202.3 C434.7 205.4 440.3 209.7 445.0 211.9 C449.8 214.1 454.9 213.6 459.4 215.6 C463.9 217.6 467.0 220.1 472.2 223.9 C477.4 227.7 488.4 234.4 490.6 238.2 C492.7 242.1 487.8 244.0 485.0 247.0 C482.2 250.1 478.1 253.7 473.8 256.6 C469.5 259.5 464.7 262.1 459.4 264.6 C454.1 267.1 447.4 269.8 441.9 271.8 C436.3 273.8 431.2 274.9 425.9 276.6 C420.6 278.2 414.2 280.7 409.9 281.7 C405.7 282.7 403.3 283.1 400.3 282.6 C397.4 282.2 394.1 280.8 392.4 279.0 C390.6 277.2 390.4 281.0 390.0 271.8 C389.5 262.6 389.6 238.2 389.5 223.9 C389.4 209.5 389.0 193.5 389.5 185.5 C390.0 177.6 390.5 178.2 392.4 176.0 C394.2 173.7 397.7 172.2 400.3 172.0 Z" fill="none" stroke="#2a2a2a" stroke-width="0.8" stroke-opacity="1.0"/>
<path d="M416.3 214.3 C417.3 218.3 417.6 223.0 418.7 225.5 C419.8 227.9 419.6 228.4 422.7 229.0 C425.8 229.6 432.8 228.2 437.1 229.0 C441.3 229.7 445.2 231.2 448.2 233.5 C451.3 235.7 454.5 239.0 455.4 242.2 C456.4 245.4 455.3 249.3 453.8 252.6 C452.4 255.9 449.4 259.4 446.6 262.2 C443.9 265.0 440.5 267.4 437.1 269.4 C433.6 271.4 429.3 272.8 425.9 274.2 C422.4 275.6 420.3 276.8 416.3 277.8 C412.3 278.9 405.7 280.6 401.9 280.6 C398.2 280.5 395.8 279.1 394.0 277.4 C392.1 275.6 391.6 279.1 391.1 270.2 C390.6 261.3 390.9 237.7 390.9 223.9 C390.9 210.0 390.4 194.9 391.1 187.1 C391.7 179.4 393.2 179.6 394.8 177.6 C396.3 175.5 398.2 174.7 400.3 174.7 C402.5 174.6 405.7 175.4 407.5 177.2 C409.3 179.1 410.3 181.5 411.2 185.5 C412.1 189.6 411.9 196.7 412.8 201.5 C413.6 206.3 415.3 210.3 416.3 214.3 Z" fill="none" stroke="#2a2a2a" stroke-width="0.8" stroke-opacity="1.0"/>
<path d="M415.5 235.0 C416.7 237.1 416.7 238.7 419.5 239.5 C422.3 240.3 428.8 239.1 432.3 239.8 C435.7 240.6 438.5 242.0 440.3 243.8 C442.0 245.7 442.7 248.4 442.7 251.0 C442.7 253.7 441.7 257.3 440.3 259.8 C438.8 262.3 436.5 264.1 433.9 266.2 C431.2 268.3 427.5 270.9 424.3 272.6 C421.1 274.3 418.4 275.2 414.7 276.2 C411.0 277.3 405.3 279.1 401.9 279.0 C398.6 278.8 396.3 277.0 394.8 275.3 C393.2 273.6 392.9 277.2 392.5 268.6 C392.1 260.0 392.3 237.0 392.4 223.9 C392.4 210.7 392.0 196.9 392.7 189.5 C393.3 182.2 395.1 182.0 396.3 180.0 C397.6 177.9 398.7 177.3 400.3 177.2 C401.9 177.2 404.5 178.0 405.9 179.6 C407.3 181.3 408.1 182.4 408.8 187.1 C409.5 191.9 409.7 201.3 410.2 207.9 C410.8 214.6 411.4 222.5 412.3 227.1 C413.2 231.6 414.3 233.0 415.5 235.0 Z" fill="none" stroke="#2a2a2a" stroke-width="0.8" stroke-opacity="1.0"/>
<path d="M413.1 243.0 C414.4 245.8 415.5 246.2 417.9 247.0 C420.3 247.8 424.7 247.0 427.5 247.8 C430.3 248.6 433.2 250.2 434.7 251.8 C436.1 253.4 436.5 255.4 436.3 257.4 C436.0 259.4 434.8 261.7 433.1 263.8 C431.3 265.9 428.7 268.4 425.9 270.2 C423.1 272.0 420.0 273.4 416.3 274.7 C412.6 275.9 406.9 277.7 403.5 277.5 C400.2 277.4 397.9 275.4 396.3 273.7 C394.8 271.9 394.4 275.3 394.0 267.0 C393.5 258.7 393.8 236.5 393.8 223.9 C393.8 211.2 393.6 198.1 394.1 191.1 C394.7 184.2 396.1 184.2 397.1 182.4 C398.2 180.5 399.1 179.9 400.3 179.8 C401.6 179.7 403.5 180.4 404.7 182.0 C405.8 183.7 406.4 185.2 407.0 189.5 C407.7 193.9 407.8 201.1 408.3 207.9 C408.8 214.7 409.1 224.4 409.9 230.3 C410.7 236.1 411.8 240.2 413.1 243.0 Z" fill="none" stroke="#2a2a2a" stroke-width="0.8" stroke-opacity="0.9"/>
<path d="M410.7 249.4 C412.0 251.9 413.8 251.2 416.3 251.8 C418.8 252.4 423.4 252.1 425.9 252.9 C428.4 253.7 430.5 255.1 431.5 256.6 C432.4 258.2 432.4 260.3 431.5 262.2 C430.5 264.1 428.4 266.0 425.9 267.8 C423.4 269.6 419.9 271.7 416.3 273.1 C412.7 274.4 407.5 276.1 404.3 275.9 C401.2 275.7 399.0 273.5 397.5 271.8 C395.9 270.0 395.6 273.4 395.2 265.4 C394.8 257.4 395.0 236.0 395.1 223.9 C395.1 211.8 395.1 199.3 395.5 192.7 C396.0 186.2 397.1 186.5 397.9 184.8 C398.7 183.0 399.4 182.4 400.3 182.4 C401.3 182.3 402.7 182.8 403.5 184.4 C404.4 186.0 404.9 187.5 405.4 191.9 C406.0 196.4 406.2 203.6 406.7 211.1 C407.2 218.5 407.7 230.3 408.3 236.6 C409.0 243.0 409.4 246.9 410.7 249.4 Z" fill="none" stroke="#2a2a2a" stroke-width="0.8" stroke-opacity="0.9"/>
<path d="M434.2 266.7 C433.2 268.8 431.0 271.3 428.3 273.2 C425.5 275.1 421.6 276.9 417.9 278.0 C414.2 279.1 408.7 279.8 405.9 279.8 C403.1 279.8 402.3 279.1 401.1 278.0 C400.0 276.9 399.3 275.1 399.2 273.2 C399.1 271.3 399.7 268.8 400.7 266.7 C401.6 264.5 403.3 262.0 405.1 260.1 C406.9 258.2 409.2 256.4 411.4 255.3 C413.5 254.2 414.9 253.6 417.7 253.6 C420.5 253.6 425.4 254.2 428.1 255.3 C430.9 256.4 433.1 258.2 434.1 260.1 C435.2 262.0 435.2 264.5 434.2 266.7 Z" fill="none" stroke="#2a2a2a" stroke-width="0.85" stroke-opacity="1.0"/>
<path d="M431.8 266.8 C430.9 268.8 428.9 271.0 426.4 272.7 C424.0 274.4 420.5 276.0 417.1 277.0 C413.8 278.0 408.9 278.6 406.3 278.6 C403.8 278.6 403.0 278.0 402.0 277.0 C401.0 276.0 400.4 274.4 400.3 272.7 C400.2 271.0 400.7 268.8 401.6 266.8 C402.5 264.8 404.0 262.6 405.6 260.9 C407.2 259.2 409.3 257.6 411.2 256.6 C413.1 255.6 414.4 255.0 416.9 255.0 C419.5 255.0 423.8 255.6 426.3 256.6 C428.8 257.6 430.8 259.2 431.7 260.9 C432.6 262.6 432.6 264.8 431.8 266.8 Z" fill="none" stroke="#2a2a2a" stroke-width="0.85" stroke-opacity="1.0"/>
<path d="M429.3 266.9 C428.6 268.7 426.8 270.6 424.6 272.2 C422.4 273.7 419.3 275.1 416.3 276.0 C413.3 276.9 409.0 277.4 406.7 277.4 C404.5 277.4 403.8 276.9 402.9 276.0 C402.0 275.1 401.4 273.7 401.4 272.2 C401.3 270.6 401.7 268.7 402.5 266.9 C403.3 265.2 404.6 263.2 406.1 261.7 C407.5 260.2 409.4 258.7 411.1 257.9 C412.7 257.0 413.9 256.4 416.2 256.4 C418.4 256.4 422.3 257.0 424.5 257.9 C426.7 258.7 428.5 260.2 429.3 261.7 C430.1 263.2 430.1 265.2 429.3 266.9 Z" fill="none" stroke="#2a2a2a" stroke-width="0.85" stroke-opacity="1.0"/>
<path d="M426.9 267.0 C426.2 268.6 424.7 270.3 422.8 271.6 C420.9 273.0 418.1 274.2 415.5 275.0 C412.9 275.8 409.1 276.2 407.1 276.2 C405.2 276.2 404.6 275.8 403.8 275.0 C403.0 274.2 402.5 273.0 402.4 271.6 C402.4 270.3 402.7 268.6 403.4 267.0 C404.1 265.5 405.3 263.8 406.5 262.5 C407.8 261.1 409.4 259.9 410.9 259.1 C412.4 258.3 413.4 257.9 415.4 257.9 C417.3 257.9 420.7 258.3 422.7 259.1 C424.6 259.9 426.2 261.1 426.9 262.5 C427.6 263.8 427.6 265.5 426.9 267.0 Z" fill="none" stroke="#2a2a2a" stroke-width="0.85" stroke-opacity="1.0"/>
<path d="M424.5 267.2 C423.9 268.5 422.5 270.0 420.9 271.1 C419.3 272.2 416.9 273.3 414.7 274.0 C412.5 274.6 409.2 275.0 407.5 275.0 C405.9 275.0 405.3 274.6 404.7 274.0 C404.0 273.3 403.5 272.2 403.5 271.1 C403.4 270.0 403.8 268.5 404.4 267.2 C405.0 265.9 406.0 264.4 407.0 263.2 C408.1 262.1 409.5 261.0 410.8 260.4 C412.0 259.7 412.9 259.3 414.6 259.3 C416.3 259.3 419.2 259.7 420.8 260.4 C422.5 261.0 423.8 262.1 424.5 263.2 C425.1 264.4 425.1 265.9 424.5 267.2 Z" fill="none" stroke="#2a2a2a" stroke-width="0.85" stroke-opacity="1.0"/>
<path d="M422.1 267.3 C421.6 268.4 420.4 269.6 419.1 270.6 C417.7 271.5 415.8 272.4 413.9 273.0 C412.1 273.5 409.3 273.9 407.9 273.9 C406.5 273.9 406.1 273.5 405.5 273.0 C405.0 272.4 404.6 271.5 404.6 270.6 C404.5 269.6 404.8 268.4 405.3 267.3 C405.8 266.2 406.6 265.0 407.5 264.0 C408.4 263.1 409.6 262.2 410.6 261.6 C411.7 261.1 412.4 260.8 413.8 260.8 C415.2 260.8 417.7 261.1 419.0 261.6 C420.4 262.2 421.5 263.1 422.0 264.0 C422.5 265.0 422.5 266.2 422.1 267.3 Z" fill="none" stroke="#2a2a2a" stroke-width="0.85" stroke-opacity="1.0"/>
<path d="M419.6 267.4 C419.2 268.3 418.3 269.3 417.3 270.1 C416.2 270.8 414.6 271.5 413.1 272.0 C411.6 272.4 409.4 272.7 408.3 272.7 C407.2 272.7 406.9 272.4 406.4 272.0 C406.0 271.5 405.7 270.8 405.6 270.1 C405.6 269.3 405.8 268.3 406.2 267.4 C406.6 266.6 407.3 265.6 408.0 264.8 C408.7 264.1 409.7 263.3 410.5 262.9 C411.3 262.5 411.9 262.2 413.0 262.2 C414.2 262.2 416.1 262.5 417.2 262.9 C418.3 263.3 419.2 264.1 419.6 264.8 C420.0 265.6 420.0 266.6 419.6 267.4 Z" fill="none" stroke="#2a2a2a" stroke-width="0.85" stroke-opacity="1.0"/>
<path d="M417.2 267.6 C416.9 268.2 416.2 269.0 415.4 269.5 C414.6 270.1 413.4 270.6 412.3 271.0 C411.2 271.3 409.6 271.5 408.7 271.5 C407.9 271.5 407.6 271.3 407.3 271.0 C407.0 270.6 406.7 270.1 406.7 269.5 C406.7 269.0 406.8 268.2 407.1 267.6 C407.4 266.9 407.9 266.2 408.5 265.6 C409.0 265.0 409.7 264.5 410.3 264.2 C411.0 263.8 411.4 263.6 412.3 263.6 C413.1 263.6 414.6 263.8 415.4 264.2 C416.2 264.5 416.9 265.0 417.2 265.6 C417.5 266.2 417.5 266.9 417.2 267.6 Z" fill="none" stroke="#2a2a2a" stroke-width="0.85" stroke-opacity="1.0"/>
<path d="M414.8 267.7 C414.6 268.1 414.1 268.6 413.6 269.0 C413.0 269.4 412.3 269.7 411.5 270.0 C410.8 270.2 409.7 270.3 409.1 270.3 C408.6 270.3 408.4 270.2 408.2 270.0 C407.9 269.7 407.8 269.4 407.8 269.0 C407.8 268.6 407.9 268.1 408.1 267.7 C408.3 267.3 408.6 266.8 409.0 266.4 C409.3 266.0 409.8 265.6 410.2 265.4 C410.6 265.2 410.9 265.1 411.5 265.1 C412.0 265.1 413.0 265.2 413.6 265.4 C414.1 265.6 414.6 266.0 414.8 266.4 C415.0 266.8 415.0 267.3 414.8 267.7 Z" fill="none" stroke="#2a2a2a" stroke-width="0.85" stroke-opacity="1.0"/>
<path d="M412.3 267.8 C412.2 268.0 412.0 268.3 411.8 268.5 C411.5 268.7 411.1 268.8 410.7 269.0 C410.3 269.1 409.8 269.1 409.5 269.1 C409.2 269.1 409.2 269.1 409.0 269.0 C408.9 268.8 408.9 268.7 408.8 268.5 C408.8 268.3 408.9 268.0 409.0 267.8 C409.1 267.6 409.3 267.4 409.4 267.2 C409.6 267.0 409.9 266.8 410.1 266.7 C410.3 266.6 410.4 266.5 410.7 266.5 C411.0 266.5 411.5 266.6 411.7 266.7 C412.0 266.8 412.2 267.0 412.3 267.2 C412.4 267.4 412.4 267.6 412.3 267.8 Z" fill="none" stroke="#2a2a2a" stroke-width="0.85" stroke-opacity="1.0"/>
<path d="M396.35 191.84 A5.03 6.29 0 0 1 406.41 191.84 L406.41 269.90 A5.03 4.28 0 0 1 396.35 269.90 Z" fill="none" stroke="#2a2a2a" stroke-width="0.75" stroke-opacity="0.8" fill-opacity="1.0"/>
<path d="M397.47 192.53 A3.03 3.79 0 0 1 403.53 192.53 L403.53 237.26 A3.03 2.58 0 0 1 397.47 237.26 Z" fill="none" stroke="#2a2a2a" stroke-width="0.75" stroke-opacity="0.8" fill-opacity="1.0"/>
<path d="M398.42 194.13 A1.76 2.20 0 0 1 401.94 194.13 L401.94 225.57 A1.76 1.49 0 0 1 398.42 225.57 Z" fill="none" stroke="#2a2a2a" stroke-width="0.75" stroke-opacity="0.7" fill-opacity="1.0"/>
<defs><linearGradient id="g2" x1="0" y1="0" x2="0" y2="1"><stop offset="0" stop-color="#0c0c0c" stop-opacity="0.0"/><stop offset="0.25" stop-color="#0c0c0c" stop-opacity="0.6"/><stop offset="0.45" stop-color="#0c0c0c" stop-opacity="0.88"/><stop offset="1" stop-color="#0c0c0c" stop-opacity="0.95"/></linearGradient></defs>
<path d="M391.72 226.27 A6.39 31.94 0 0 1 404.49 226.27 L404.49 269.86 A6.39 5.75 0 0 1 391.72 269.86 Z" fill="url(#g2)" stroke="none" stroke-width="1" />
<path d="M420.3 179.7h1.5v1.5h-1.5zM429.1 178.7h1.5v1.5h-1.5zM446.7 180.5h1.5v1.5h-1.5zM463.1 177.9h1.5v1.5h-1.5zM500.2 179.7h1.5v1.5h-1.5zM423.1 187.7h1.5v1.5h-1.5zM452.3 192.5h1.5v1.5h-1.5zM462.3 190.4h1.5v1.5h-1.5zM480.5 187.7h1.5v1.5h-1.5zM488.5 186.7h1.5v1.5h-1.5zM557.7 191.5h1.5v1.5h-1.5zM427.1 194.1h1.5v1.5h-1.5zM431.0 197.3h1.5v1.5h-1.5zM492.2 195.3h1.5v1.5h-1.5zM435.0 201.2h1.5v1.5h-1.5zM438.7 202.0h1.5v1.5h-1.5zM461.1 201.2h1.5v1.5h-1.5zM465.1 199.2h1.5v1.5h-1.5zM464.6 203.2h1.5v1.5h-1.5zM486.6 202.0h1.5v1.5h-1.5zM521.7 204.3h1.5v1.5h-1.5zM447.5 205.2h1.5v1.5h-1.5zM449.6 206.0h1.5v1.5h-1.5zM469.1 206.4h1.5v1.5h-1.5zM470.2 209.1h1.5v1.5h-1.5zM502.6 206.0h1.5v1.5h-1.5zM504.2 208.0h1.5v1.5h-1.5zM560.9 208.0h1.5v1.5h-1.5zM448.6 210.7h1.5v1.5h-1.5zM461.9 211.9h1.5v1.5h-1.5zM477.0 210.0h1.5v1.5h-1.5zM478.3 211.1h1.5v1.5h-1.5zM487.4 210.8h1.5v1.5h-1.5zM528.9 210.8h1.5v1.5h-1.5zM531.3 210.8h1.5v1.5h-1.5zM540.1 210.0h1.5v1.5h-1.5zM474.6 215.1h1.5v1.5h-1.5zM478.6 215.1h1.5v1.5h-1.5zM482.6 214.8h1.5v1.5h-1.5zM477.8 218.7h1.5v1.5h-1.5zM478.6 220.4h1.5v1.5h-1.5zM486.6 219.9h1.5v1.5h-1.5zM513.0 220.7h1.5v1.5h-1.5zM483.4 223.6h1.5v1.5h-1.5zM484.2 226.3h1.5v1.5h-1.5zM486.6 225.5h1.5v1.5h-1.5zM495.4 224.4h1.5v1.5h-1.5zM496.2 226.3h1.5v1.5h-1.5zM508.2 225.0h1.5v1.5h-1.5zM560.9 225.5h1.5v1.5h-1.5zM520.9 228.4h1.5v1.5h-1.5zM485.5 228.7h1.5v1.5h-1.5zM523.3 231.6h1.5v1.5h-1.5zM522.5 233.5h1.5v1.5h-1.5zM544.1 232.4h1.5v1.5h-1.5zM551.3 233.2h1.5v1.5h-1.5zM567.3 231.4h1.5v1.5h-1.5zM586.1 232.4h1.5v1.5h-1.5zM489.8 237.8h1.5v1.5h-1.5zM496.2 236.4h1.5v1.5h-1.5zM507.4 235.6h1.5v1.5h-1.5zM513.8 234.3h1.5v1.5h-1.5zM533.7 236.4h1.5v1.5h-1.5zM535.3 238.3h1.5v1.5h-1.5zM556.9 236.4h1.5v1.5h-1.5zM496.2 241.5h1.5v1.5h-1.5zM503.4 241.5h1.5v1.5h-1.5zM516.2 242.8h1.5v1.5h-1.5zM518.6 244.4h1.5v1.5h-1.5zM529.7 243.9h1.5v1.5h-1.5zM531.3 242.8h1.5v1.5h-1.5zM493.0 245.5h1.5v1.5h-1.5zM512.2 247.1h1.5v1.5h-1.5zM524.9 249.2h1.5v1.5h-1.5zM491.4 250.7h1.5v1.5h-1.5zM493.8 249.5h1.5v1.5h-1.5zM505.0 250.7h1.5v1.5h-1.5zM529.7 251.9h1.5v1.5h-1.5zM535.3 251.5h1.5v1.5h-1.5zM536.4 253.5h1.5v1.5h-1.5zM556.9 249.9h1.5v1.5h-1.5zM558.8 249.9h1.5v1.5h-1.5zM571.2 247.9h1.5v1.5h-1.5zM581.3 249.9h1.5v1.5h-1.5zM477.8 251.9h1.5v1.5h-1.5zM478.6 255.1h1.5v1.5h-1.5zM493.0 255.1h1.5v1.5h-1.5zM494.3 256.7h1.5v1.5h-1.5zM484.2 257.9h1.5v1.5h-1.5zM569.6 253.0h1.5v1.5h-1.5zM578.1 253.8h1.5v1.5h-1.5zM585.1 256.7h1.5v1.5h-1.5zM471.4 260.6h1.5v1.5h-1.5zM473.0 260.6h1.5v1.5h-1.5zM507.4 259.8h1.5v1.5h-1.5zM506.9 262.7h1.5v1.5h-1.5zM535.3 259.8h1.5v1.5h-1.5zM465.1 264.6h1.5v1.5h-1.5zM467.0 264.6h1.5v1.5h-1.5zM475.9 264.6h1.5v1.5h-1.5zM477.8 263.8h1.5v1.5h-1.5zM482.6 263.8h1.5v1.5h-1.5zM496.2 265.4h1.5v1.5h-1.5zM523.3 266.6h1.5v1.5h-1.5zM532.1 263.8h1.5v1.5h-1.5zM544.9 263.5h1.5v1.5h-1.5zM555.3 262.7h1.5v1.5h-1.5zM557.7 265.0h1.5v1.5h-1.5zM561.7 263.8h1.5v1.5h-1.5zM571.2 262.7h1.5v1.5h-1.5zM475.9 268.6h1.5v1.5h-1.5zM514.6 269.4h1.5v1.5h-1.5zM382.0 246.3h1.5v1.5h-1.5zM380.1 261.8h1.5v1.5h-1.5zM378.4 268.6h1.5v1.5h-1.5zM386.0 268.6h1.5v1.5h-1.5z" fill="#222" stroke="none" stroke-width="1" />
<path d="M694.3 174.1 C697.0 173.5 699.7 175.4 701.5 176.8 C703.4 178.2 704.2 180.1 705.5 182.4 C706.8 184.6 707.9 187.4 709.5 190.3 C711.1 193.3 712.7 197.3 715.1 199.9 C717.5 202.6 720.3 204.6 723.9 206.3 C727.5 208.0 732.4 209.0 736.6 210.3 C740.9 211.6 745.7 212.4 749.4 214.3 C753.1 216.2 756.3 218.8 759.0 221.5 C761.7 224.1 764.0 227.7 765.4 230.3 C766.8 232.8 767.6 234.3 767.3 236.6 C767.0 239.0 765.7 241.7 763.8 244.6 C761.9 247.6 758.6 251.0 755.8 254.2 C753.0 257.4 750.5 261.1 747.0 263.8 C743.6 266.5 739.4 268.1 735.0 270.2 C730.7 272.3 725.2 274.7 720.7 276.6 C716.2 278.4 712.2 280.2 707.9 281.4 C703.6 282.6 698.6 283.9 695.1 283.8 C691.7 283.6 688.9 282.6 687.1 280.6 C685.4 278.6 685.3 281.2 684.8 271.8 C684.2 262.3 684.3 237.2 684.0 223.9 C683.6 210.6 682.6 199.3 682.8 191.9 C683.1 184.6 683.6 182.9 685.5 180.0 C687.5 177.0 691.7 174.6 694.3 174.1 Z" fill="none" stroke="#2a2a2a" stroke-width="0.8" stroke-opacity="1.0"/>
<path d="M703.1 222.3 C704.7 225.5 709.8 225.9 712.7 227.1 C715.6 228.3 717.8 229.1 720.7 229.5 C723.6 229.8 727.3 228.6 730.3 229.0 C733.2 229.3 736.0 230.0 738.2 231.5 C740.5 233.1 742.9 235.5 743.8 238.2 C744.8 241.0 744.4 244.4 743.8 247.8 C743.3 251.3 742.6 255.9 740.6 259.0 C738.6 262.1 735.2 263.9 731.9 266.2 C728.5 268.4 724.7 270.6 720.7 272.6 C716.7 274.6 712.0 276.8 707.9 278.2 C703.8 279.6 699.2 281.0 695.9 281.0 C692.7 281.0 690.0 280.0 688.4 278.2 C686.8 276.4 686.8 279.2 686.3 270.2 C685.9 261.1 685.8 236.6 685.5 223.9 C685.3 211.1 684.4 200.5 684.8 193.5 C685.1 186.6 685.9 185.1 687.5 182.4 C689.1 179.6 692.3 177.2 694.3 176.8 C696.4 176.4 698.5 178.0 699.9 180.0 C701.3 182.0 702.2 184.1 702.8 188.7 C703.4 193.4 703.4 202.3 703.4 207.9 C703.5 213.5 701.6 219.1 703.1 222.3 Z" fill="none" stroke="#2a2a2a" stroke-width="0.8" stroke-opacity="1.0"/>
<path d="M701.5 233.5 C702.6 237.2 705.5 237.0 707.9 238.2 C710.3 239.4 713.2 240.2 715.9 240.6 C718.5 241.1 721.2 240.3 723.9 241.1 C726.5 241.9 729.9 243.5 731.9 245.4 C733.9 247.3 735.3 250.1 735.8 252.6 C736.4 255.1 736.2 258.2 735.0 260.6 C733.9 263.0 731.3 265.1 728.7 267.0 C726.0 268.8 722.5 270.2 719.1 271.8 C715.6 273.3 711.6 275.0 707.9 276.2 C704.2 277.4 699.8 279.0 696.7 279.0 C693.7 279.0 691.1 278.0 689.5 276.2 C688.0 274.5 687.9 277.3 687.5 268.6 C687.0 259.9 687.0 236.1 686.8 223.9 C686.6 211.6 686.0 201.7 686.3 195.1 C686.7 188.6 687.4 187.4 688.7 184.8 C690.1 182.1 692.7 179.9 694.3 179.5 C695.9 179.1 697.2 180.3 698.3 182.4 C699.4 184.4 700.4 186.3 700.9 191.9 C701.4 197.5 701.1 209.0 701.2 215.9 C701.3 222.8 700.4 229.7 701.5 233.5 Z" fill="none" stroke="#2a2a2a" stroke-width="0.8" stroke-opacity="1.0"/>
<path d="M700.7 239.8 C702.0 243.0 704.8 242.1 707.9 243.0 C711.0 244.0 715.9 244.5 719.1 245.4 C722.3 246.4 724.9 247.0 727.1 248.6 C729.2 250.2 731.3 252.7 731.9 255.0 C732.4 257.3 731.6 260.1 730.3 262.2 C728.9 264.3 726.5 266.1 723.9 267.8 C721.2 269.5 717.2 271.4 714.3 272.6 C711.4 273.8 709.2 274.2 706.3 275.0 C703.4 275.8 699.7 277.4 697.0 277.4 C694.4 277.3 692.0 276.4 690.7 274.7 C689.3 272.9 689.1 275.4 688.7 267.0 C688.3 258.5 688.4 235.6 688.3 223.9 C688.1 212.2 687.7 202.8 687.9 196.7 C688.2 190.6 689.0 189.6 690.0 187.1 C691.1 184.7 693.1 182.4 694.3 182.0 C695.6 181.6 696.6 182.8 697.5 184.8 C698.4 186.7 699.2 187.0 699.6 193.5 C700.0 200.1 699.7 216.2 699.9 223.9 C700.1 231.6 699.4 236.6 700.7 239.8 Z" fill="none" stroke="#2a2a2a" stroke-width="0.8" stroke-opacity="0.9"/>
<path d="M699.9 244.6 C701.4 248.1 704.7 247.0 707.9 247.8 C711.1 248.6 716.2 248.6 719.1 249.4 C722.0 250.2 723.9 251.2 725.5 252.6 C727.1 254.1 728.5 256.2 728.7 258.2 C728.8 260.2 727.9 262.7 726.3 264.6 C724.7 266.5 722.1 267.9 719.1 269.4 C716.0 270.9 711.5 272.6 707.9 273.7 C704.3 274.8 700.2 276.0 697.5 275.9 C694.8 275.8 692.9 274.8 691.6 273.1 C690.4 271.3 690.4 273.6 690.0 265.4 C689.7 257.2 689.6 235.0 689.5 223.9 C689.4 212.7 689.1 204.0 689.4 198.3 C689.6 192.6 690.3 191.8 691.1 189.5 C692.0 187.3 693.4 185.1 694.3 184.8 C695.3 184.4 696.1 185.7 696.7 187.5 C697.4 189.2 698.0 188.5 698.3 195.1 C698.7 201.7 698.7 218.8 699.0 227.1 C699.2 235.3 698.4 241.2 699.9 244.6 Z" fill="none" stroke="#2a2a2a" stroke-width="0.8" stroke-opacity="0.9"/>
<path d="M732.4 263.8 C731.3 266.3 728.8 269.1 725.9 271.3 C722.9 273.4 718.7 275.5 714.7 276.7 C710.8 278.0 705.0 278.7 702.0 278.7 C698.9 278.7 697.7 278.0 696.4 276.7 C695.0 275.5 694.2 273.4 694.0 271.3 C693.9 269.1 694.5 266.3 695.7 263.8 C696.8 261.3 698.7 258.5 700.8 256.3 C702.8 254.2 705.6 252.1 708.0 250.9 C710.4 249.6 712.4 248.9 715.4 248.9 C718.5 248.9 723.5 249.6 726.4 250.9 C729.2 252.1 731.6 254.2 732.6 256.3 C733.6 258.5 733.5 261.3 732.4 263.8 Z" fill="none" stroke="#2a2a2a" stroke-width="0.85" stroke-opacity="1.0"/>
<path d="M730.0 264.0 C729.0 266.2 726.8 268.8 724.1 270.7 C721.4 272.7 717.6 274.6 714.0 275.7 C710.3 276.8 705.1 277.5 702.4 277.5 C699.6 277.5 698.4 276.8 697.2 275.7 C696.0 274.6 695.2 272.7 695.1 270.7 C695.0 268.8 695.6 266.2 696.6 264.0 C697.6 261.7 699.4 259.1 701.2 257.2 C703.1 255.2 705.6 253.3 707.8 252.2 C710.0 251.1 711.8 250.4 714.6 250.4 C717.4 250.4 721.9 251.1 724.5 252.2 C727.1 253.3 729.3 255.2 730.2 257.2 C731.1 259.1 731.0 261.7 730.0 264.0 Z" fill="none" stroke="#2a2a2a" stroke-width="0.85" stroke-opacity="1.0"/>
<path d="M727.6 264.1 C726.7 266.1 724.7 268.5 722.3 270.2 C719.9 272.0 716.4 273.7 713.2 274.7 C709.9 275.7 705.2 276.3 702.7 276.3 C700.2 276.3 699.2 275.7 698.1 274.7 C697.0 273.7 696.3 272.0 696.2 270.2 C696.1 268.5 696.6 266.1 697.6 264.1 C698.5 262.1 700.0 259.8 701.7 258.0 C703.4 256.2 705.7 254.6 707.6 253.5 C709.6 252.5 711.2 251.9 713.7 251.9 C716.2 251.9 720.3 252.5 722.7 253.5 C725.0 254.6 727.0 256.2 727.8 258.0 C728.6 259.8 728.5 262.1 727.6 264.1 Z" fill="none" stroke="#2a2a2a" stroke-width="0.85" stroke-opacity="1.0"/>
<path d="M725.2 264.3 C724.4 266.1 722.6 268.1 720.5 269.7 C718.3 271.3 715.3 272.8 712.4 273.7 C709.5 274.6 705.3 275.1 703.1 275.1 C700.9 275.1 700.0 274.6 699.0 273.7 C698.0 272.8 697.4 271.3 697.3 269.7 C697.2 268.1 697.7 266.1 698.5 264.3 C699.3 262.5 700.7 260.4 702.2 258.8 C703.7 257.3 705.7 255.8 707.5 254.9 C709.2 254.0 710.6 253.4 712.9 253.4 C715.1 253.4 718.8 254.0 720.8 254.9 C722.9 255.8 724.6 257.3 725.4 258.8 C726.1 260.4 726.0 262.5 725.2 264.3 Z" fill="none" stroke="#2a2a2a" stroke-width="0.85" stroke-opacity="1.0"/>
<path d="M722.8 264.4 C722.1 266.0 720.5 267.8 718.7 269.2 C716.8 270.6 714.1 271.9 711.6 272.7 C709.1 273.5 705.4 273.9 703.5 273.9 C701.5 273.9 700.7 273.5 699.9 272.7 C699.1 271.9 698.5 270.6 698.4 269.2 C698.3 267.8 698.7 266.0 699.4 264.4 C700.2 262.8 701.4 261.1 702.7 259.7 C704.0 258.3 705.7 257.0 707.3 256.2 C708.9 255.4 710.1 254.9 712.0 254.9 C714.0 254.9 717.2 255.4 719.0 256.2 C720.8 257.0 722.3 258.3 723.0 259.7 C723.6 261.1 723.5 262.8 722.8 264.4 Z" fill="none" stroke="#2a2a2a" stroke-width="0.85" stroke-opacity="1.0"/>
<path d="M720.4 264.6 C719.8 265.9 718.5 267.5 716.9 268.7 C715.3 269.8 713.0 271.0 710.8 271.6 C708.6 272.3 705.5 272.7 703.8 272.7 C702.2 272.7 701.5 272.3 700.8 271.6 C700.1 271.0 699.6 269.8 699.5 268.7 C699.4 267.5 699.8 265.9 700.4 264.6 C701.0 263.2 702.1 261.7 703.2 260.5 C704.3 259.3 705.8 258.2 707.1 257.5 C708.5 256.9 709.5 256.4 711.2 256.4 C712.8 256.4 715.6 256.9 717.1 257.5 C718.7 258.2 720.0 259.3 720.5 260.5 C721.1 261.7 721.0 263.2 720.4 264.6 Z" fill="none" stroke="#2a2a2a" stroke-width="0.85" stroke-opacity="1.0"/>
<path d="M718.0 264.8 C717.5 265.9 716.4 267.2 715.1 268.1 C713.7 269.1 711.8 270.1 710.0 270.6 C708.2 271.2 705.6 271.5 704.2 271.5 C702.8 271.5 702.3 271.2 701.7 270.6 C701.1 270.1 700.7 269.1 700.6 268.1 C700.6 267.2 700.8 265.9 701.3 264.8 C701.8 263.6 702.7 262.3 703.7 261.4 C704.6 260.4 705.8 259.4 706.9 258.9 C708.1 258.3 708.9 258.0 710.3 258.0 C711.7 258.0 714.0 258.3 715.3 258.9 C716.6 259.4 717.7 260.4 718.1 261.4 C718.6 262.3 718.6 263.6 718.0 264.8 Z" fill="none" stroke="#2a2a2a" stroke-width="0.85" stroke-opacity="1.0"/>
<path d="M715.6 264.9 C715.2 265.8 714.3 266.8 713.3 267.6 C712.2 268.4 710.7 269.2 709.2 269.6 C707.8 270.1 705.7 270.3 704.6 270.3 C703.5 270.3 703.0 270.1 702.5 269.6 C702.1 269.2 701.7 268.4 701.7 267.6 C701.7 266.8 701.9 265.8 702.3 264.9 C702.7 264.0 703.4 263.0 704.1 262.2 C704.9 261.4 705.9 260.7 706.8 260.2 C707.7 259.8 708.4 259.5 709.5 259.5 C710.6 259.5 712.4 259.8 713.5 260.2 C714.5 260.7 715.3 261.4 715.7 262.2 C716.1 263.0 716.1 264.0 715.6 264.9 Z" fill="none" stroke="#2a2a2a" stroke-width="0.85" stroke-opacity="1.0"/>
<path d="M713.3 265.1 C712.9 265.7 712.3 266.5 711.5 267.1 C710.7 267.7 709.5 268.3 708.4 268.6 C707.3 268.9 705.8 269.1 705.0 269.1 C704.1 269.1 703.8 268.9 703.4 268.6 C703.1 268.3 702.8 267.7 702.8 267.1 C702.8 266.5 702.9 265.7 703.2 265.1 C703.5 264.4 704.1 263.6 704.6 263.0 C705.2 262.4 705.9 261.9 706.6 261.5 C707.3 261.2 707.8 261.0 708.6 261.0 C709.5 261.0 710.8 261.2 711.6 261.5 C712.4 261.9 713.0 262.4 713.3 263.0 C713.6 263.6 713.6 264.4 713.3 265.1 Z" fill="none" stroke="#2a2a2a" stroke-width="0.85" stroke-opacity="1.0"/>
<path d="M710.9 265.2 C710.7 265.7 710.2 266.2 709.7 266.6 C709.1 267.0 708.4 267.4 707.6 267.6 C706.9 267.8 705.9 267.9 705.3 267.9 C704.8 267.9 704.5 267.8 704.3 267.6 C704.1 267.4 703.9 267.0 703.9 266.6 C703.9 266.2 704.0 265.7 704.2 265.2 C704.4 264.8 704.7 264.3 705.1 263.9 C705.5 263.5 706.0 263.1 706.4 262.9 C706.9 262.7 707.2 262.5 707.8 262.5 C708.3 262.5 709.2 262.7 709.8 262.9 C710.3 263.1 710.7 263.5 710.9 263.9 C711.1 264.3 711.1 264.8 710.9 265.2 Z" fill="none" stroke="#2a2a2a" stroke-width="0.85" stroke-opacity="1.0"/>
<path d="M708.5 265.4 C708.4 265.6 708.1 265.9 707.9 266.1 C707.6 266.3 707.2 266.5 706.9 266.6 C706.5 266.7 706.0 266.7 705.7 266.7 C705.4 266.7 705.3 266.7 705.2 266.6 C705.1 266.5 705.0 266.3 705.0 266.1 C705.0 265.9 705.0 265.6 705.1 265.4 C705.2 265.2 705.4 264.9 705.6 264.7 C705.8 264.5 706.0 264.3 706.2 264.2 C706.5 264.1 706.6 264.0 706.9 264.0 C707.2 264.0 707.7 264.1 707.9 264.2 C708.2 264.3 708.4 264.5 708.5 264.7 C708.6 264.9 708.6 265.2 708.5 265.4 Z" fill="none" stroke="#2a2a2a" stroke-width="0.85" stroke-opacity="1.0"/>
<path d="M690.66 191.54 A3.51 4.39 0 0 1 697.68 191.54 L697.68 246.44 A3.51 2.99 0 0 1 690.66 246.44 Z" fill="none" stroke="#2a2a2a" stroke-width="0.75" stroke-opacity="0.8" fill-opacity="1.0"/>
<path d="M691.94 193.13 A2.24 2.79 0 0 1 696.41 193.13 L696.41 229.96 A2.24 1.90 0 0 1 691.94 229.96 Z" fill="none" stroke="#2a2a2a" stroke-width="0.75" stroke-opacity="0.7" fill-opacity="1.0"/>
<defs><linearGradient id="g3" x1="0" y1="0" x2="0" y2="1"><stop offset="0" stop-color="#0c0c0c" stop-opacity="0.2"/><stop offset="0.3" stop-color="#0c0c0c" stop-opacity="0.8"/><stop offset="1" stop-color="#0c0c0c" stop-opacity="0.95"/></linearGradient></defs>
<path d="M685.23 227.64 A7.03 30.91 0 0 1 699.28 227.64 L699.28 269.45 A7.03 6.32 0 0 1 685.23 269.45 Z" fill="url(#g3)" stroke="none" stroke-width="1" />
<path d="M703.2 177.1h1.5v1.5h-1.5zM718.3 180.5h1.5v1.5h-1.5zM724.4 180.5h1.5v1.5h-1.5zM725.5 182.9h1.5v1.5h-1.5zM777.1 179.7h1.5v1.5h-1.5zM775.0 182.9h1.5v1.5h-1.5zM764.3 184.5h1.5v1.5h-1.5zM715.1 185.6h1.5v1.5h-1.5zM714.3 188.0h1.5v1.5h-1.5zM755.5 188.0h1.5v1.5h-1.5zM753.9 190.4h1.5v1.5h-1.5zM755.1 191.2h1.5v1.5h-1.5zM729.0 188.8h1.5v1.5h-1.5zM726.3 190.4h1.5v1.5h-1.5zM731.9 191.2h1.5v1.5h-1.5zM735.1 192.5h1.5v1.5h-1.5zM748.7 192.5h1.5v1.5h-1.5zM803.0 187.7h1.5v1.5h-1.5zM817.0 187.7h1.5v1.5h-1.5zM810.9 192.5h1.5v1.5h-1.5zM781.1 193.3h1.5v1.5h-1.5zM778.2 195.7h1.5v1.5h-1.5zM870.5 189.3h1.5v1.5h-1.5zM859.6 193.3h1.5v1.5h-1.5zM714.3 194.1h1.5v1.5h-1.5zM732.7 195.7h1.5v1.5h-1.5zM731.1 198.1h1.5v1.5h-1.5zM763.0 195.7h1.5v1.5h-1.5zM764.6 197.3h1.5v1.5h-1.5zM751.5 197.3h1.5v1.5h-1.5zM751.9 199.6h1.5v1.5h-1.5zM793.4 198.1h1.5v1.5h-1.5zM801.0 199.2h1.5v1.5h-1.5zM817.0 197.3h1.5v1.5h-1.5zM829.8 196.3h1.5v1.5h-1.5zM722.3 199.6h1.5v1.5h-1.5zM726.3 200.4h1.5v1.5h-1.5zM722.3 202.0h1.5v1.5h-1.5zM746.0 201.2h1.5v1.5h-1.5zM755.1 201.6h1.5v1.5h-1.5zM759.8 202.0h1.5v1.5h-1.5zM761.4 202.0h1.5v1.5h-1.5zM765.4 201.2h1.5v1.5h-1.5zM767.5 202.0h1.5v1.5h-1.5zM752.7 204.4h1.5v1.5h-1.5zM752.3 206.0h1.5v1.5h-1.5zM739.9 205.2h1.5v1.5h-1.5zM739.1 207.2h1.5v1.5h-1.5zM743.6 206.4h1.5v1.5h-1.5zM745.5 208.4h1.5v1.5h-1.5zM750.7 210.0h1.5v1.5h-1.5zM776.6 208.0h1.5v1.5h-1.5zM785.1 206.4h1.5v1.5h-1.5zM785.4 208.4h1.5v1.5h-1.5zM789.4 208.0h1.5v1.5h-1.5zM788.6 211.1h1.5v1.5h-1.5zM810.9 209.2h1.5v1.5h-1.5zM844.2 207.2h1.5v1.5h-1.5zM742.3 211.1h1.5v1.5h-1.5zM751.9 213.5h1.5v1.5h-1.5zM753.5 214.0h1.5v1.5h-1.5zM767.8 211.6h1.5v1.5h-1.5zM773.4 210.8h1.5v1.5h-1.5zM774.2 213.2h1.5v1.5h-1.5zM778.2 214.0h1.5v1.5h-1.5zM783.8 214.8h1.5v1.5h-1.5zM812.2 215.1h1.5v1.5h-1.5zM791.8 216.4h1.5v1.5h-1.5zM795.0 218.3h1.5v1.5h-1.5zM816.5 218.8h1.5v1.5h-1.5zM821.8 219.9h1.5v1.5h-1.5zM826.6 220.7h1.5v1.5h-1.5zM832.5 219.9h1.5v1.5h-1.5zM756.7 219.9h1.5v1.5h-1.5zM759.8 219.6h1.5v1.5h-1.5zM768.3 215.6h1.5v1.5h-1.5zM774.7 216.4h1.5v1.5h-1.5zM775.5 218.3h1.5v1.5h-1.5zM778.2 217.5h1.5v1.5h-1.5zM781.9 220.4h1.5v1.5h-1.5zM771.0 222.8h1.5v1.5h-1.5zM769.4 224.4h1.5v1.5h-1.5zM787.8 225.5h1.5v1.5h-1.5zM790.7 225.5h1.5v1.5h-1.5zM791.8 225.2h1.5v1.5h-1.5zM795.5 222.8h1.5v1.5h-1.5zM799.4 223.9h1.5v1.5h-1.5zM798.2 226.0h1.5v1.5h-1.5zM850.1 223.6h1.5v1.5h-1.5zM852.1 226.6h1.5v1.5h-1.5zM770.2 231.9h1.5v1.5h-1.5zM774.2 230.0h1.5v1.5h-1.5zM775.8 229.2h1.5v1.5h-1.5zM779.0 228.4h1.5v1.5h-1.5zM783.3 227.6h1.5v1.5h-1.5zM768.6 232.7h1.5v1.5h-1.5zM771.0 232.4h1.5v1.5h-1.5zM783.0 233.2h1.5v1.5h-1.5zM787.0 233.2h1.5v1.5h-1.5zM794.7 234.0h1.5v1.5h-1.5zM796.6 232.4h1.5v1.5h-1.5zM799.4 232.4h1.5v1.5h-1.5zM809.3 235.1h1.5v1.5h-1.5zM834.6 234.0h1.5v1.5h-1.5zM831.4 238.3h1.5v1.5h-1.5zM769.4 237.2h1.5v1.5h-1.5zM773.4 238.0h1.5v1.5h-1.5zM778.7 238.8h1.5v1.5h-1.5zM779.8 239.9h1.5v1.5h-1.5zM767.0 242.0h1.5v1.5h-1.5zM770.2 241.5h1.5v1.5h-1.5zM781.4 242.0h1.5v1.5h-1.5zM790.2 238.3h1.5v1.5h-1.5zM779.0 244.7h1.5v1.5h-1.5zM809.0 242.8h1.5v1.5h-1.5zM809.3 246.0h1.5v1.5h-1.5zM764.6 246.8h1.5v1.5h-1.5zM764.3 250.7h1.5v1.5h-1.5zM768.6 249.2h1.5v1.5h-1.5zM775.0 247.9h1.5v1.5h-1.5zM779.0 247.1h1.5v1.5h-1.5zM781.4 246.8h1.5v1.5h-1.5zM787.5 247.1h1.5v1.5h-1.5zM793.4 247.9h1.5v1.5h-1.5zM779.8 251.9h1.5v1.5h-1.5zM757.9 253.9h1.5v1.5h-1.5zM756.3 255.9h1.5v1.5h-1.5zM753.5 257.9h1.5v1.5h-1.5zM763.5 257.5h1.5v1.5h-1.5zM775.8 257.9h1.5v1.5h-1.5zM801.0 258.7h1.5v1.5h-1.5zM819.7 258.7h1.5v1.5h-1.5zM840.2 258.7h1.5v1.5h-1.5zM874.3 253.0h1.5v1.5h-1.5zM746.8 264.6h1.5v1.5h-1.5zM757.5 263.5h1.5v1.5h-1.5zM783.8 267.5h1.5v1.5h-1.5zM803.0 264.6h1.5v1.5h-1.5zM814.9 266.6h1.5v1.5h-1.5zM674.7 234.0h1.5v1.5h-1.5zM682.4 256.3h1.5v1.5h-1.5zM668.8 262.7h1.5v1.5h-1.5zM670.4 264.6h1.5v1.5h-1.5z" fill="#222" stroke="none" stroke-width="1" />
<path d="M986.9 174.4 C989.2 174.1 992.4 175.4 994.1 177.2 C995.9 179.1 996.6 182.3 997.3 185.5 C998.0 188.8 997.9 193.0 998.4 196.7 C999.0 200.5 999.2 204.4 1000.5 207.9 C1001.8 211.4 1003.6 214.8 1006.1 217.5 C1008.6 220.1 1012.9 221.6 1015.7 223.9 C1018.5 226.1 1021.1 228.7 1022.9 231.1 C1024.6 233.5 1025.8 235.2 1026.4 238.2 C1026.9 241.3 1026.5 245.4 1026.1 249.4 C1025.6 253.4 1025.0 258.7 1023.7 262.2 C1022.3 265.7 1020.7 267.9 1018.1 270.2 C1015.4 272.4 1011.3 274.0 1007.7 275.8 C1004.1 277.5 1000.0 279.5 996.5 280.6 C993.1 281.6 989.6 282.4 986.9 282.2 C984.3 281.9 981.9 280.7 980.5 279.0 C979.2 277.2 979.2 281.0 979.0 271.8 C978.7 262.6 979.1 237.2 979.0 223.9 C978.8 210.6 977.9 199.4 978.2 191.9 C978.4 184.5 979.1 182.1 980.5 179.2 C982.0 176.2 984.7 174.7 986.9 174.4 Z" fill="none" stroke="#2a2a2a" stroke-width="0.8" stroke-opacity="1.0"/>
<path d="M994.1 236.6 C995.2 241.2 998.8 240.9 1001.3 243.0 C1003.8 245.2 1007.0 247.3 1009.3 249.4 C1011.6 251.6 1013.8 253.7 1014.9 255.8 C1015.9 257.9 1016.3 260.1 1015.7 262.2 C1015.0 264.3 1013.3 266.6 1010.9 268.6 C1008.5 270.6 1004.5 272.6 1001.3 274.2 C998.1 275.8 994.4 277.3 991.7 278.2 C989.1 279.0 987.1 279.7 985.3 279.4 C983.6 279.2 982.2 278.1 981.3 276.6 C980.5 275.0 980.4 279.0 980.2 270.2 C980.0 261.4 980.3 236.9 980.2 223.9 C980.2 210.8 979.6 199.0 980.1 191.9 C980.5 184.9 981.8 183.7 982.9 181.6 C984.1 179.4 985.5 179.2 986.9 179.2 C988.4 179.2 990.5 179.4 991.7 181.6 C993.0 183.7 993.9 186.2 994.4 191.9 C995.0 197.7 995.0 208.4 994.9 215.9 C994.9 223.3 993.1 232.1 994.1 236.6 Z" fill="none" stroke="#2a2a2a" stroke-width="0.8" stroke-opacity="1.0"/>
<path d="M994.1 249.4 C995.7 254.2 1000.4 251.3 1002.9 252.6 C1005.4 253.9 1008.0 255.7 1009.3 257.4 C1010.6 259.1 1011.4 261.0 1010.9 263.0 C1010.4 265.0 1008.2 267.7 1006.1 269.4 C1004.0 271.1 1000.8 272.2 998.1 273.4 C995.5 274.5 992.3 275.6 990.1 276.2 C988.0 276.9 986.6 277.7 985.3 277.4 C984.1 277.0 983.1 275.6 982.5 274.2 C981.8 272.7 981.7 277.0 981.5 268.6 C981.3 260.2 981.5 236.4 981.5 223.9 C981.5 211.4 981.2 200.2 981.7 193.5 C982.1 186.9 983.2 185.9 984.1 184.0 C984.9 182.0 985.9 182.0 986.9 182.0 C987.9 182.0 989.2 182.0 990.1 184.0 C991.1 185.9 992.0 186.9 992.5 193.5 C993.1 200.2 993.1 214.6 993.3 223.9 C993.6 233.2 992.5 244.6 994.1 249.4 Z" fill="none" stroke="#2a2a2a" stroke-width="0.8" stroke-opacity="0.9"/>
<path d="M1007.6 263.0 C1007.4 264.4 1006.8 265.9 1005.9 267.1 C1005.0 268.3 1003.7 269.5 1002.3 270.2 C1000.9 270.9 999.0 271.3 997.6 271.3 C996.2 271.3 995.0 270.9 994.0 270.2 C993.0 269.5 992.0 268.3 991.5 267.1 C991.0 265.9 990.8 264.4 991.0 263.0 C991.1 261.6 991.6 260.0 992.4 258.8 C993.1 257.6 994.3 256.5 995.4 255.8 C996.6 255.1 997.9 254.7 999.3 254.7 C1000.6 254.7 1002.5 255.1 1003.7 255.8 C1005.0 256.5 1006.1 257.6 1006.8 258.8 C1007.4 260.0 1007.7 261.6 1007.6 263.0 Z" fill="none" stroke="#2a2a2a" stroke-width="0.8" stroke-opacity="0.9"/>
<path d="M1005.5 263.3 C1005.4 264.4 1004.9 265.7 1004.2 266.7 C1003.5 267.6 1002.3 268.6 1001.2 269.1 C1000.1 269.7 998.6 270.0 997.4 270.0 C996.3 270.0 995.3 269.7 994.5 269.1 C993.7 268.6 993.0 267.6 992.6 266.7 C992.1 265.7 992.0 264.4 992.1 263.3 C992.2 262.2 992.6 260.9 993.2 260.0 C993.8 259.0 994.7 258.1 995.7 257.5 C996.6 256.9 997.7 256.6 998.8 256.6 C999.9 256.6 1001.4 256.9 1002.4 257.5 C1003.4 258.1 1004.3 259.0 1004.8 260.0 C1005.4 260.9 1005.6 262.2 1005.5 263.3 Z" fill="none" stroke="#2a2a2a" stroke-width="0.8" stroke-opacity="0.9"/>
<path d="M1003.4 263.6 C1003.3 264.5 1002.9 265.5 1002.4 266.2 C1001.9 266.9 1001.0 267.6 1000.2 268.1 C999.3 268.5 998.1 268.7 997.3 268.7 C996.4 268.7 995.7 268.5 995.1 268.1 C994.4 267.6 993.9 266.9 993.6 266.2 C993.2 265.5 993.1 264.5 993.2 263.6 C993.3 262.8 993.6 261.8 994.1 261.1 C994.5 260.3 995.2 259.6 995.9 259.2 C996.6 258.8 997.5 258.5 998.3 258.5 C999.2 258.5 1000.3 258.8 1001.0 259.2 C1001.8 259.6 1002.5 260.3 1002.9 261.1 C1003.3 261.8 1003.5 262.8 1003.4 263.6 Z" fill="none" stroke="#2a2a2a" stroke-width="0.8" stroke-opacity="0.9"/>
<path d="M1001.3 264.0 C1001.3 264.5 1001.0 265.2 1000.6 265.7 C1000.3 266.2 999.7 266.7 999.1 267.0 C998.5 267.3 997.7 267.5 997.1 267.5 C996.5 267.5 996.0 267.3 995.6 267.0 C995.2 266.7 994.8 266.2 994.6 265.7 C994.3 265.2 994.3 264.5 994.3 264.0 C994.4 263.4 994.6 262.7 994.9 262.2 C995.2 261.7 995.7 261.2 996.2 260.9 C996.7 260.6 997.2 260.4 997.8 260.4 C998.4 260.4 999.2 260.6 999.7 260.9 C1000.2 261.2 1000.7 261.7 1001.0 262.2 C1001.3 262.7 1001.4 263.4 1001.3 264.0 Z" fill="none" stroke="#2a2a2a" stroke-width="0.8" stroke-opacity="0.9"/>
<path d="M999.3 264.3 C999.2 264.6 999.1 265.0 998.9 265.2 C998.7 265.5 998.4 265.8 998.0 265.9 C997.7 266.1 997.3 266.2 997.0 266.2 C996.6 266.2 996.4 266.1 996.1 265.9 C995.9 265.8 995.7 265.5 995.6 265.2 C995.5 265.0 995.4 264.6 995.4 264.3 C995.5 264.0 995.6 263.6 995.8 263.3 C995.9 263.0 996.2 262.8 996.5 262.6 C996.7 262.5 997.0 262.4 997.3 262.4 C997.7 262.4 998.1 262.5 998.4 262.6 C998.7 262.8 998.9 263.0 999.1 263.3 C999.2 263.6 999.3 264.0 999.3 264.3 Z" fill="none" stroke="#2a2a2a" stroke-width="0.8" stroke-opacity="0.9"/>
<path d="M983.10 190.54 A3.99 4.99 0 0 1 991.09 190.54 L991.09 252.42 A3.99 3.39 0 0 1 983.10 252.42 Z" fill="none" stroke="#2a2a2a" stroke-width="0.75" stroke-opacity="0.8" fill-opacity="1.0"/>
<path d="M984.38 192.14 A2.71 3.39 0 0 1 989.81 192.14 L989.81 234.34 A2.71 2.31 0 0 1 984.38 234.34 Z" fill="none" stroke="#2a2a2a" stroke-width="0.75" stroke-opacity="0.8" fill-opacity="1.0"/>
<path d="M985.50 193.93 A1.60 2.00 0 0 1 988.69 193.93 L988.69 219.32 A1.60 1.36 0 0 1 985.50 219.32 Z" fill="none" stroke="#2a2a2a" stroke-width="0.75" stroke-opacity="0.7" fill-opacity="1.0"/>
<defs><linearGradient id="g4" x1="0" y1="0" x2="0" y2="1"><stop offset="0" stop-color="#0c0c0c" stop-opacity="0.2"/><stop offset="0.3" stop-color="#0c0c0c" stop-opacity="0.8"/><stop offset="1" stop-color="#0c0c0c" stop-opacity="0.95"/></linearGradient></defs>
<path d="M981.35 226.46 A5.67 24.94 0 0 1 992.68 226.46 L992.68 270.19 A5.67 5.10 0 0 1 981.35 270.19 Z" fill="url(#g4)" stroke="none" stroke-width="1" />
<path d="M1022.6 179.7h1.5v1.5h-1.5zM1005.7 194.1h1.5v1.5h-1.5zM1009.7 194.1h1.5v1.5h-1.5zM1001.7 202.0h1.5v1.5h-1.5zM1005.0 202.0h1.5v1.5h-1.5zM1030.3 200.4h1.5v1.5h-1.5zM1041.0 201.2h1.5v1.5h-1.5zM1000.6 204.4h1.5v1.5h-1.5zM1006.6 206.0h1.5v1.5h-1.5zM1012.5 206.8h1.5v1.5h-1.5zM1036.0 206.8h1.5v1.5h-1.5zM1010.9 210.7h1.5v1.5h-1.5zM1012.1 211.6h1.5v1.5h-1.5zM1011.7 214.0h1.5v1.5h-1.5zM1017.8 214.0h1.5v1.5h-1.5zM1029.3 214.8h1.5v1.5h-1.5zM1060.4 212.7h1.5v1.5h-1.5zM1066.3 213.1h1.5v1.5h-1.5zM1017.8 219.6h1.5v1.5h-1.5zM1023.4 218.8h1.5v1.5h-1.5zM1025.3 221.5h1.5v1.5h-1.5zM1016.5 222.3h1.5v1.5h-1.5zM1015.7 224.4h1.5v1.5h-1.5zM1021.3 224.4h1.5v1.5h-1.5zM1018.1 227.1h1.5v1.5h-1.5zM1021.6 227.1h1.5v1.5h-1.5zM1025.3 227.1h1.5v1.5h-1.5zM1022.4 229.5h1.5v1.5h-1.5zM1025.3 229.2h1.5v1.5h-1.5zM1030.4 229.2h1.5v1.5h-1.5zM1041.8 227.6h1.5v1.5h-1.5zM1046.1 228.2h1.5v1.5h-1.5zM1048.0 228.2h1.5v1.5h-1.5zM1056.4 226.6h1.5v1.5h-1.5zM1078.0 229.2h1.5v1.5h-1.5zM1048.8 234.3h1.5v1.5h-1.5zM1026.1 235.6h1.5v1.5h-1.5zM1037.3 237.5h1.5v1.5h-1.5zM1034.1 239.1h1.5v1.5h-1.5zM1036.5 239.9h1.5v1.5h-1.5zM1041.0 238.3h1.5v1.5h-1.5zM1038.9 246.3h1.5v1.5h-1.5zM1050.5 246.0h1.5v1.5h-1.5zM1064.4 249.0h1.5v1.5h-1.5zM1028.0 249.2h1.5v1.5h-1.5zM1032.8 248.4h1.5v1.5h-1.5zM1031.7 251.1h1.5v1.5h-1.5zM1029.3 253.5h1.5v1.5h-1.5zM1028.0 258.6h1.5v1.5h-1.5zM1040.0 263.5h1.5v1.5h-1.5zM966.2 247.1h1.5v1.5h-1.5zM977.9 247.6h1.5v1.5h-1.5zM965.7 256.3h1.5v1.5h-1.5zM973.7 255.5h1.5v1.5h-1.5zM968.9 259.5h1.5v1.5h-1.5zM961.0 261.4h1.5v1.5h-1.5zM974.5 261.4h1.5v1.5h-1.5zM967.8 264.6h1.5v1.5h-1.5zM977.9 264.6h1.5v1.5h-1.5zM999.8 186.7h1.5v1.5h-1.5z" fill="#222" stroke="none" stroke-width="1" />
<path d="M1274.5 174.4 C1276.8 174.1 1279.4 175.4 1280.9 177.2 C1282.5 179.1 1283.1 182.3 1283.8 185.5 C1284.5 188.8 1284.5 192.7 1284.9 196.7 C1285.3 200.7 1285.1 206.0 1286.2 209.5 C1287.3 213.0 1289.1 215.1 1291.3 217.5 C1293.5 219.9 1296.6 221.6 1299.3 223.9 C1302.0 226.1 1305.1 228.4 1307.3 231.1 C1309.4 233.7 1311.1 237.2 1312.1 239.8 C1313.0 242.5 1313.1 244.6 1312.9 247.0 C1312.6 249.4 1311.1 251.4 1310.5 254.2 C1309.8 257.0 1310.2 260.9 1308.9 263.8 C1307.5 266.7 1305.4 269.2 1302.5 271.8 C1299.6 274.3 1295.3 277.0 1291.3 279.0 C1287.3 280.9 1282.3 282.7 1278.5 283.3 C1274.8 283.8 1271.1 283.3 1269.0 282.2 C1266.8 281.0 1266.0 286.3 1265.4 276.6 C1264.9 266.9 1265.6 238.0 1265.4 223.9 C1265.3 209.8 1264.2 199.4 1264.5 191.9 C1264.8 184.5 1265.7 182.1 1267.4 179.2 C1269.0 176.2 1272.3 174.7 1274.5 174.4 Z" fill="none" stroke="#2a2a2a" stroke-width="0.8" stroke-opacity="1.0"/>
<path d="M1280.9 236.6 C1282.1 240.6 1285.6 238.2 1288.1 239.8 C1290.6 241.4 1294.0 243.6 1296.1 246.2 C1298.2 248.9 1300.1 252.9 1300.9 255.8 C1301.7 258.7 1302.0 261.1 1300.9 263.8 C1299.8 266.5 1297.2 269.5 1294.5 271.8 C1291.8 274.0 1288.1 276.0 1284.9 277.4 C1281.7 278.7 1278.0 279.8 1275.3 280.1 C1272.7 280.3 1270.3 279.9 1269.0 279.0 C1267.6 278.0 1267.4 283.4 1267.0 274.2 C1266.7 265.0 1267.1 237.6 1267.0 223.9 C1267.0 210.2 1266.1 199.1 1266.6 191.9 C1267.0 184.8 1268.4 183.0 1269.8 180.8 C1271.1 178.5 1272.9 178.2 1274.5 178.4 C1276.1 178.5 1278.2 179.3 1279.3 181.6 C1280.5 183.8 1281.1 186.2 1281.4 191.9 C1281.7 197.7 1281.0 208.4 1280.9 215.9 C1280.8 223.3 1279.7 232.7 1280.9 236.6 Z" fill="none" stroke="#2a2a2a" stroke-width="0.8" stroke-opacity="1.0"/>
<path d="M1280.9 247.0 C1282.3 251.3 1285.9 248.2 1288.1 249.4 C1290.4 250.6 1293.0 252.1 1294.5 254.2 C1296.0 256.3 1297.2 259.5 1296.9 262.2 C1296.6 264.9 1294.9 268.1 1292.9 270.2 C1290.9 272.3 1287.6 273.5 1284.9 274.7 C1282.3 275.8 1279.3 277.0 1276.9 277.4 C1274.5 277.7 1271.9 277.4 1270.5 276.6 C1269.2 275.8 1269.0 281.4 1268.6 272.6 C1268.3 263.8 1268.5 237.0 1268.5 223.9 C1268.4 210.7 1267.9 200.2 1268.3 193.5 C1268.7 186.9 1269.8 185.9 1270.9 184.0 C1271.9 182.0 1273.3 181.6 1274.5 181.6 C1275.7 181.6 1277.2 182.0 1278.1 184.0 C1278.9 185.9 1279.5 186.9 1279.8 193.5 C1280.2 200.2 1279.9 215.0 1280.1 223.9 C1280.3 232.8 1279.6 242.8 1280.9 247.0 Z" fill="none" stroke="#2a2a2a" stroke-width="0.8" stroke-opacity="0.9"/>
<path d="M1294.6 264.1 C1294.5 265.6 1293.8 267.2 1292.8 268.5 C1291.8 269.8 1290.3 271.0 1288.8 271.7 C1287.2 272.4 1285.1 272.9 1283.6 272.9 C1282.0 272.9 1280.6 272.4 1279.5 271.7 C1278.4 271.0 1277.4 269.8 1276.8 268.5 C1276.2 267.2 1276.0 265.6 1276.1 264.1 C1276.3 262.6 1276.8 261.0 1277.7 259.7 C1278.5 258.5 1279.8 257.2 1281.0 256.5 C1282.3 255.8 1283.8 255.3 1285.3 255.3 C1286.9 255.3 1288.9 255.8 1290.3 256.5 C1291.7 257.2 1293.0 258.5 1293.7 259.7 C1294.4 261.0 1294.8 262.6 1294.6 264.1 Z" fill="none" stroke="#2a2a2a" stroke-width="0.8" stroke-opacity="0.9"/>
<path d="M1292.6 264.4 C1292.5 265.6 1291.9 267.0 1291.1 268.0 C1290.3 269.1 1289.1 270.1 1287.8 270.7 C1286.5 271.3 1284.7 271.7 1283.5 271.7 C1282.2 271.7 1281.1 271.3 1280.1 270.7 C1279.2 270.1 1278.3 269.1 1277.9 268.0 C1277.4 267.0 1277.2 265.6 1277.3 264.4 C1277.4 263.1 1277.9 261.7 1278.6 260.7 C1279.3 259.6 1280.3 258.6 1281.4 258.0 C1282.4 257.4 1283.7 257.0 1284.9 257.0 C1286.2 257.0 1287.9 257.4 1289.1 258.0 C1290.2 258.6 1291.3 259.6 1291.9 260.7 C1292.5 261.7 1292.8 263.1 1292.6 264.4 Z" fill="none" stroke="#2a2a2a" stroke-width="0.8" stroke-opacity="0.9"/>
<path d="M1290.6 264.6 C1290.5 265.6 1290.1 266.7 1289.4 267.5 C1288.8 268.4 1287.8 269.2 1286.8 269.7 C1285.8 270.2 1284.4 270.5 1283.4 270.5 C1282.4 270.5 1281.5 270.2 1280.7 269.7 C1280.0 269.2 1279.3 268.4 1278.9 267.5 C1278.6 266.7 1278.4 265.6 1278.5 264.6 C1278.6 263.6 1279.0 262.5 1279.5 261.6 C1280.1 260.8 1280.9 260.0 1281.7 259.5 C1282.6 259.0 1283.5 258.7 1284.6 258.7 C1285.6 258.7 1286.9 259.0 1287.8 259.5 C1288.7 260.0 1289.6 260.8 1290.0 261.6 C1290.5 262.5 1290.7 263.6 1290.6 264.6 Z" fill="none" stroke="#2a2a2a" stroke-width="0.8" stroke-opacity="0.9"/>
<path d="M1288.6 264.8 C1288.6 265.6 1288.2 266.4 1287.8 267.1 C1287.3 267.7 1286.5 268.3 1285.8 268.7 C1285.0 269.1 1284.0 269.3 1283.3 269.3 C1282.5 269.3 1281.9 269.1 1281.3 268.7 C1280.8 268.3 1280.3 267.7 1280.0 267.1 C1279.7 266.4 1279.6 265.6 1279.7 264.8 C1279.8 264.1 1280.1 263.2 1280.5 262.6 C1280.9 261.9 1281.5 261.3 1282.1 261.0 C1282.7 260.6 1283.4 260.4 1284.2 260.4 C1284.9 260.4 1285.9 260.6 1286.6 261.0 C1287.2 261.3 1287.9 261.9 1288.2 262.6 C1288.6 263.2 1288.7 264.1 1288.6 264.8 Z" fill="none" stroke="#2a2a2a" stroke-width="0.8" stroke-opacity="0.9"/>
<path d="M1286.6 265.1 C1286.6 265.5 1286.4 266.1 1286.1 266.5 C1285.8 266.9 1285.3 267.3 1284.8 267.6 C1284.3 267.8 1283.7 267.9 1283.2 267.9 C1282.7 267.9 1282.3 267.8 1281.9 267.6 C1281.6 267.3 1281.3 266.9 1281.1 266.5 C1280.9 266.1 1280.8 265.5 1280.9 265.1 C1280.9 264.6 1281.1 264.0 1281.4 263.6 C1281.6 263.2 1282.0 262.8 1282.4 262.6 C1282.8 262.3 1283.3 262.2 1283.8 262.2 C1284.2 262.2 1284.9 262.3 1285.3 262.6 C1285.7 262.8 1286.1 263.2 1286.4 263.6 C1286.6 264.0 1286.7 264.6 1286.6 265.1 Z" fill="none" stroke="#2a2a2a" stroke-width="0.8" stroke-opacity="0.9"/>
<path d="M1284.8 265.3 C1284.8 265.5 1284.7 265.8 1284.5 266.0 C1284.4 266.2 1284.1 266.4 1283.9 266.6 C1283.7 266.7 1283.3 266.7 1283.1 266.7 C1282.9 266.7 1282.6 266.7 1282.5 266.6 C1282.3 266.4 1282.1 266.2 1282.1 266.0 C1282.0 265.8 1281.9 265.5 1282.0 265.3 C1282.0 265.1 1282.1 264.8 1282.2 264.6 C1282.3 264.4 1282.5 264.2 1282.7 264.1 C1282.9 263.9 1283.1 263.9 1283.4 263.9 C1283.6 263.9 1283.9 263.9 1284.2 264.1 C1284.4 264.2 1284.6 264.4 1284.7 264.6 C1284.8 264.8 1284.8 265.1 1284.8 265.3 Z" fill="none" stroke="#2a2a2a" stroke-width="0.8" stroke-opacity="0.9"/>
<path d="M1269.75 190.84 A4.23 5.29 0 0 1 1278.21 190.84 L1278.21 252.21 A4.23 3.60 0 0 1 1269.75 252.21 Z" fill="none" stroke="#2a2a2a" stroke-width="0.75" stroke-opacity="0.8" fill-opacity="1.0"/>
<path d="M1271.03 192.44 A2.95 3.69 0 0 1 1276.94 192.44 L1276.94 234.14 A2.95 2.51 0 0 1 1271.03 234.14 Z" fill="none" stroke="#2a2a2a" stroke-width="0.75" stroke-opacity="0.8" fill-opacity="1.0"/>
<path d="M1272.15 194.23 A1.84 2.30 0 0 1 1275.82 194.23 L1275.82 219.12 A1.84 1.56 0 0 1 1272.15 219.12 Z" fill="none" stroke="#2a2a2a" stroke-width="0.75" stroke-opacity="0.7" fill-opacity="1.0"/>
<defs><linearGradient id="g5" x1="0" y1="0" x2="0" y2="1"><stop offset="0" stop-color="#0c0c0c" stop-opacity="0.2"/><stop offset="0.3" stop-color="#0c0c0c" stop-opacity="0.8"/><stop offset="1" stop-color="#0c0c0c" stop-opacity="0.95"/></linearGradient></defs>
<path d="M1267.36 226.62 A6.07 26.70 0 0 1 1279.49 226.62 L1279.49 269.83 A6.07 5.46 0 0 1 1267.36 269.83 Z" fill="url(#g5)" stroke="none" stroke-width="1" />
<path d="M1282.6 184.0h1.5v1.5h-1.5zM1283.4 188.0h1.5v1.5h-1.5zM1287.4 189.3h1.5v1.5h-1.5zM1296.1 189.3h1.5v1.5h-1.5zM1291.4 193.3h1.5v1.5h-1.5zM1286.1 196.3h1.5v1.5h-1.5zM1291.4 196.3h1.5v1.5h-1.5zM1298.2 196.3h1.5v1.5h-1.5zM1300.9 198.4h1.5v1.5h-1.5zM1310.2 195.2h1.5v1.5h-1.5zM1312.9 195.5h1.5v1.5h-1.5zM1315.6 196.3h1.5v1.5h-1.5zM1308.1 198.4h1.5v1.5h-1.5zM1308.9 200.0h1.5v1.5h-1.5zM1293.8 204.4h1.5v1.5h-1.5zM1316.9 205.2h1.5v1.5h-1.5zM1292.2 208.0h1.5v1.5h-1.5zM1287.0 211.1h1.5v1.5h-1.5zM1290.6 212.7h1.5v1.5h-1.5zM1290.6 214.8h1.5v1.5h-1.5zM1332.1 210.0h1.5v1.5h-1.5zM1321.7 214.0h1.5v1.5h-1.5zM1313.7 214.8h1.5v1.5h-1.5zM1307.0 215.6h1.5v1.5h-1.5zM1327.3 215.6h1.5v1.5h-1.5zM1354.4 216.7h1.5v1.5h-1.5zM1299.3 219.9h1.5v1.5h-1.5zM1304.1 219.9h1.5v1.5h-1.5zM1328.1 219.6h1.5v1.5h-1.5zM1301.7 222.3h1.5v1.5h-1.5zM1307.3 223.6h1.5v1.5h-1.5zM1308.9 223.6h1.5v1.5h-1.5zM1302.5 225.2h1.5v1.5h-1.5zM1327.3 226.3h1.5v1.5h-1.5zM1250.3 216.7h1.5v1.5h-1.5zM1254.3 226.6h1.5v1.5h-1.5zM1313.7 232.7h1.5v1.5h-1.5zM1319.6 231.9h1.5v1.5h-1.5zM1314.0 234.8h1.5v1.5h-1.5zM1313.7 237.0h1.5v1.5h-1.5zM1327.3 235.6h1.5v1.5h-1.5zM1325.7 237.5h1.5v1.5h-1.5zM1325.7 239.9h1.5v1.5h-1.5zM1348.0 232.4h1.5v1.5h-1.5zM1348.8 238.3h1.5v1.5h-1.5zM1312.9 241.5h1.5v1.5h-1.5zM1320.1 242.3h1.5v1.5h-1.5zM1314.5 242.8h1.5v1.5h-1.5zM1315.6 246.3h1.5v1.5h-1.5zM1318.0 246.8h1.5v1.5h-1.5zM1321.2 247.6h1.5v1.5h-1.5zM1338.0 247.1h1.5v1.5h-1.5zM1336.1 249.9h1.5v1.5h-1.5zM1339.6 250.7h1.5v1.5h-1.5zM1348.0 247.9h1.5v1.5h-1.5zM1313.7 250.3h1.5v1.5h-1.5zM1323.6 254.7h1.5v1.5h-1.5zM1311.3 251.9h1.5v1.5h-1.5zM1311.6 259.8h1.5v1.5h-1.5zM1317.7 259.8h1.5v1.5h-1.5zM1313.7 264.3h1.5v1.5h-1.5zM1316.4 262.7h1.5v1.5h-1.5zM1326.5 263.5h1.5v1.5h-1.5zM1254.3 259.5h1.5v1.5h-1.5zM1475.8 249.0h1.5v1.5h-1.5zM1475.8 252.7h1.5v1.5h-1.5z" fill="#222" stroke="none" stroke-width="1" />
<text x="1566.50" y="52.00" font-family="Liberation Sans, Arial, sans-serif" font-size="24.2" font-weight="bold" font-style="normal" text-anchor="start">B</text>
<line x1="1651.20" y1="179.00" x2="1651.20" y2="183.60" stroke="#000" stroke-width="1.6" stroke-linecap="butt"/>
<line x1="1640.11" y1="179.00" x2="1662.29" y2="179.00" stroke="#000" stroke-width="1.6" stroke-linecap="butt"/>
<rect x="1632.10" y="183.60" width="38.20" height="148.00" fill="#a6a3b0" stroke="#000" stroke-width="2.0"/>
<line x1="1713.25" y1="184.40" x2="1713.25" y2="189.50" stroke="#000" stroke-width="1.6" stroke-linecap="butt"/>
<line x1="1701.91" y1="184.40" x2="1724.59" y2="184.40" stroke="#000" stroke-width="1.6" stroke-linecap="butt"/>
<rect x="1693.70" y="189.50" width="39.10" height="142.10" fill="#76c8d2" stroke="#000" stroke-width="2.0"/>
<line x1="1776.00" y1="247.00" x2="1776.00" y2="271.67" stroke="#000" stroke-width="1.6" stroke-linecap="butt"/>
<line x1="1764.80" y1="247.00" x2="1787.20" y2="247.00" stroke="#000" stroke-width="1.6" stroke-linecap="butt"/>
<rect x="1756.70" y="271.67" width="38.60" height="59.93" fill="#5cbb90" stroke="#000" stroke-width="2.0"/>
<line x1="1839.25" y1="241.00" x2="1839.25" y2="268.95" stroke="#000" stroke-width="1.6" stroke-linecap="butt"/>
<line x1="1827.91" y1="241.00" x2="1850.59" y2="241.00" stroke="#000" stroke-width="1.6" stroke-linecap="butt"/>
<rect x="1819.70" y="268.95" width="39.10" height="62.65" fill="#07544b" stroke="#000" stroke-width="2.0"/>
<line x1="1607.90" y1="331.60" x2="1882.00" y2="331.60" stroke="#000" stroke-width="2.2" stroke-linecap="butt"/>
<line x1="1609.00" y1="148.90" x2="1609.00" y2="332.70" stroke="#000" stroke-width="2.2" stroke-linecap="butt"/>
<line x1="1604.30" y1="331.60" x2="1609.00" y2="331.60" stroke="#000" stroke-width="2.2" stroke-linecap="butt"/>
<text x="1601.00" y="337.79" font-family="Liberation Sans, Arial, sans-serif" font-size="17.2" font-weight="bold" font-style="normal" text-anchor="end">0</text>
<line x1="1604.30" y1="286.20" x2="1609.00" y2="286.20" stroke="#000" stroke-width="2.2" stroke-linecap="butt"/>
<text x="1601.00" y="292.39" font-family="Liberation Sans, Arial, sans-serif" font-size="17.2" font-weight="bold" font-style="normal" text-anchor="end">5</text>
<line x1="1604.30" y1="240.80" x2="1609.00" y2="240.80" stroke="#000" stroke-width="2.2" stroke-linecap="butt"/>
<text x="1601.00" y="246.99" font-family="Liberation Sans, Arial, sans-serif" font-size="17.2" font-weight="bold" font-style="normal" text-anchor="end">10</text>
<line x1="1604.30" y1="195.40" x2="1609.00" y2="195.40" stroke="#000" stroke-width="2.2" stroke-linecap="butt"/>
<text x="1601.00" y="201.59" font-family="Liberation Sans, Arial, sans-serif" font-size="17.2" font-weight="bold" font-style="normal" text-anchor="end">15</text>
<line x1="1604.30" y1="150.00" x2="1609.00" y2="150.00" stroke="#000" stroke-width="2.2" stroke-linecap="butt"/>
<text x="1601.00" y="156.19" font-family="Liberation Sans, Arial, sans-serif" font-size="17.2" font-weight="bold" font-style="normal" text-anchor="end">20</text>
<line x1="1651.20" y1="331.60" x2="1651.20" y2="336.30" stroke="#000" stroke-width="2.2" stroke-linecap="butt"/>
<text x="1655.40" y="350.20" font-family="Liberation Sans, Arial, sans-serif" font-size="17.4" font-weight="bold" font-style="normal" text-anchor="end" transform="rotate(-45 1655.40 350.20)">Control</text>
<line x1="1713.25" y1="331.60" x2="1713.25" y2="336.30" stroke="#000" stroke-width="2.2" stroke-linecap="butt"/>
<text x="1717.45" y="350.20" font-family="Liberation Sans, Arial, sans-serif" font-size="17.4" font-weight="bold" font-style="normal" text-anchor="end" transform="rotate(-45 1717.45 350.20)">0.04% ripasudil</text>
<line x1="1776.00" y1="331.60" x2="1776.00" y2="336.30" stroke="#000" stroke-width="2.2" stroke-linecap="butt"/>
<text x="1780.20" y="350.20" font-family="Liberation Sans, Arial, sans-serif" font-size="17.4" font-weight="bold" font-style="normal" text-anchor="end" transform="rotate(-45 1780.20 350.20)">0.4% ripasudil</text>
<line x1="1839.25" y1="331.60" x2="1839.25" y2="336.30" stroke="#000" stroke-width="2.2" stroke-linecap="butt"/>
<text x="1843.45" y="350.20" font-family="Liberation Sans, Arial, sans-serif" font-size="17.4" font-weight="bold" font-style="normal" text-anchor="end" transform="rotate(-45 1843.45 350.20)">2.0% ripasudil</text>
<path d="M1650.50 130.00 L1650.50 117.00 L1841.00 117.00 L1841.00 227.60" fill="none" stroke="#000" stroke-width="2.0" stroke-linejoin="miter"/>
<path d="M1650.50 160.00 L1650.50 145.00 L1779.00 145.00 L1779.00 233.00" fill="none" stroke="#000" stroke-width="2.0" stroke-linejoin="miter"/>
<text x="1744.60" y="114.28" font-family="Liberation Sans, Arial, sans-serif" font-size="24.5" font-weight="bold" font-style="normal" text-anchor="middle">*</text>
<text x="1713.00" y="145.79" font-family="Liberation Sans, Arial, sans-serif" font-size="24.5" font-weight="bold" font-style="normal" text-anchor="middle">*</text>
<text transform="translate(1574.3 236.6) rotate(-90)" x="0" y="0" font-family="Liberation Sans, Arial, sans-serif" font-size="22" text-anchor="middle">%CD45<tspan font-size="14.5" dy="-8">+</tspan><tspan dy="8"> cells</tspan></text>
<text x="12.00" y="475.10" font-family="Liberation Sans, Arial, sans-serif" font-size="24.2" font-weight="bold" font-style="normal" text-anchor="start">C</text>
<line x1="149.35" y1="580.00" x2="149.35" y2="581.00" stroke="#000" stroke-width="1.6" stroke-linecap="butt"/>
<line x1="138.18" y1="580.00" x2="160.52" y2="580.00" stroke="#000" stroke-width="1.6" stroke-linecap="butt"/>
<rect x="130.10" y="581.00" width="38.50" height="121.00" fill="#a6a3b0" stroke="#000" stroke-width="2.0"/>
<line x1="212.15" y1="610.30" x2="212.15" y2="620.80" stroke="#000" stroke-width="1.6" stroke-linecap="butt"/>
<line x1="200.87" y1="610.30" x2="223.43" y2="610.30" stroke="#000" stroke-width="1.6" stroke-linecap="butt"/>
<rect x="192.70" y="620.80" width="38.90" height="81.20" fill="#76c8d2" stroke="#000" stroke-width="2.0"/>
<line x1="275.25" y1="626.60" x2="275.25" y2="630.70" stroke="#000" stroke-width="1.6" stroke-linecap="butt"/>
<line x1="263.91" y1="626.60" x2="286.59" y2="626.60" stroke="#000" stroke-width="1.6" stroke-linecap="butt"/>
<rect x="255.70" y="630.70" width="39.10" height="71.30" fill="#5cbb90" stroke="#000" stroke-width="2.0"/>
<line x1="338.25" y1="623.40" x2="338.25" y2="628.50" stroke="#000" stroke-width="1.6" stroke-linecap="butt"/>
<line x1="326.91" y1="623.40" x2="349.59" y2="623.40" stroke="#000" stroke-width="1.6" stroke-linecap="butt"/>
<rect x="318.70" y="628.50" width="39.10" height="73.50" fill="#07544b" stroke="#000" stroke-width="2.0"/>
<line x1="105.90" y1="702.00" x2="380.00" y2="702.00" stroke="#000" stroke-width="2.2" stroke-linecap="butt"/>
<line x1="107.00" y1="517.90" x2="107.00" y2="703.10" stroke="#000" stroke-width="2.2" stroke-linecap="butt"/>
<line x1="102.30" y1="702.00" x2="107.00" y2="702.00" stroke="#000" stroke-width="2.2" stroke-linecap="butt"/>
<text x="99.00" y="708.19" font-family="Liberation Sans, Arial, sans-serif" font-size="17.2" font-weight="bold" font-style="normal" text-anchor="end">0.0</text>
<line x1="102.30" y1="641.00" x2="107.00" y2="641.00" stroke="#000" stroke-width="2.2" stroke-linecap="butt"/>
<text x="99.00" y="647.19" font-family="Liberation Sans, Arial, sans-serif" font-size="17.2" font-weight="bold" font-style="normal" text-anchor="end">0.5</text>
<line x1="102.30" y1="580.00" x2="107.00" y2="580.00" stroke="#000" stroke-width="2.2" stroke-linecap="butt"/>
<text x="99.00" y="586.19" font-family="Liberation Sans, Arial, sans-serif" font-size="17.2" font-weight="bold" font-style="normal" text-anchor="end">1.0</text>
<line x1="102.30" y1="519.00" x2="107.00" y2="519.00" stroke="#000" stroke-width="2.2" stroke-linecap="butt"/>
<text x="99.00" y="525.19" font-family="Liberation Sans, Arial, sans-serif" font-size="17.2" font-weight="bold" font-style="normal" text-anchor="end">1.5</text>
<line x1="149.35" y1="702.00" x2="149.35" y2="706.70" stroke="#000" stroke-width="2.2" stroke-linecap="butt"/>
<text x="153.55" y="720.60" font-family="Liberation Sans, Arial, sans-serif" font-size="17.4" font-weight="bold" font-style="normal" text-anchor="end" transform="rotate(-45 153.55 720.60)">Control</text>
<line x1="212.15" y1="702.00" x2="212.15" y2="706.70" stroke="#000" stroke-width="2.2" stroke-linecap="butt"/>
<text x="216.35" y="720.60" font-family="Liberation Sans, Arial, sans-serif" font-size="17.4" font-weight="bold" font-style="normal" text-anchor="end" transform="rotate(-45 216.35 720.60)">0.04% ripasudil</text>
<line x1="275.25" y1="702.00" x2="275.25" y2="706.70" stroke="#000" stroke-width="2.2" stroke-linecap="butt"/>
<text x="279.45" y="720.60" font-family="Liberation Sans, Arial, sans-serif" font-size="17.4" font-weight="bold" font-style="normal" text-anchor="end" transform="rotate(-45 279.45 720.60)">0.4% ripasudil</text>
<line x1="338.25" y1="702.00" x2="338.25" y2="706.70" stroke="#000" stroke-width="2.2" stroke-linecap="butt"/>
<text x="342.45" y="720.60" font-family="Liberation Sans, Arial, sans-serif" font-size="17.4" font-weight="bold" font-style="normal" text-anchor="end" transform="rotate(-45 342.45 720.60)">2.0% ripasudil</text>
<path d="M149.20 489.00 L149.20 470.70 L338.70 470.70 L338.70 608.40" fill="none" stroke="#000" stroke-width="2.0" stroke-linejoin="miter"/>
<path d="M149.20 524.00 L149.20 505.50 L275.70 505.50 L275.70 609.30" fill="none" stroke="#000" stroke-width="2.0" stroke-linejoin="miter"/>
<path d="M149.20 555.00 L149.20 545.40 L212.80 545.40 L212.80 574.20" fill="none" stroke="#000" stroke-width="2.0" stroke-linejoin="miter"/>
<text x="242.80" y="473.29" font-family="Liberation Sans, Arial, sans-serif" font-size="24.5" font-weight="bold" font-style="normal" text-anchor="middle">**</text>
<text x="210.00" y="505.99" font-family="Liberation Sans, Arial, sans-serif" font-size="24.5" font-weight="bold" font-style="normal" text-anchor="middle">***</text>
<text x="181.80" y="548.28" font-family="Liberation Sans, Arial, sans-serif" font-size="24.5" font-weight="bold" font-style="normal" text-anchor="middle">**</text>
<text transform="translate(34.5 607.3) rotate(-90)" font-family="Liberation Sans, Arial, sans-serif" font-size="22.3" text-anchor="middle">Relative expression of</text>
<text transform="translate(61 607.3) rotate(-90)" font-family="Liberation Sans, Arial, sans-serif" font-size="22" text-anchor="middle"><tspan font-style="italic">Cd11b</tspan> mRNA</text>
<text x="415.00" y="477.60" font-family="Liberation Sans, Arial, sans-serif" font-size="24.2" font-weight="bold" font-style="normal" text-anchor="start">D</text>
<line x1="547.90" y1="578.70" x2="547.90" y2="584.70" stroke="#000" stroke-width="1.6" stroke-linecap="butt"/>
<line x1="536.64" y1="578.70" x2="559.16" y2="578.70" stroke="#000" stroke-width="1.6" stroke-linecap="butt"/>
<rect x="528.50" y="584.70" width="38.80" height="120.80" fill="#a6a3b0" stroke="#000" stroke-width="2.0"/>
<line x1="610.85" y1="592.00" x2="610.85" y2="595.60" stroke="#000" stroke-width="1.6" stroke-linecap="butt"/>
<line x1="599.57" y1="592.00" x2="622.13" y2="592.00" stroke="#000" stroke-width="1.6" stroke-linecap="butt"/>
<rect x="591.40" y="595.60" width="38.90" height="109.90" fill="#76c8d2" stroke="#000" stroke-width="2.0"/>
<line x1="674.00" y1="662.00" x2="674.00" y2="663.60" stroke="#000" stroke-width="1.6" stroke-linecap="butt"/>
<line x1="662.80" y1="662.00" x2="685.20" y2="662.00" stroke="#000" stroke-width="1.6" stroke-linecap="butt"/>
<rect x="654.70" y="663.60" width="38.60" height="41.90" fill="#5cbb90" stroke="#000" stroke-width="2.0"/>
<line x1="736.80" y1="662.70" x2="736.80" y2="668.00" stroke="#000" stroke-width="1.6" stroke-linecap="butt"/>
<line x1="725.49" y1="662.70" x2="748.11" y2="662.70" stroke="#000" stroke-width="1.6" stroke-linecap="butt"/>
<rect x="717.30" y="668.00" width="39.00" height="37.50" fill="#07544b" stroke="#000" stroke-width="2.0"/>
<line x1="505.30" y1="705.50" x2="780.00" y2="705.50" stroke="#000" stroke-width="2.2" stroke-linecap="butt"/>
<line x1="506.40" y1="522.30" x2="506.40" y2="706.60" stroke="#000" stroke-width="2.2" stroke-linecap="butt"/>
<line x1="501.70" y1="705.50" x2="506.40" y2="705.50" stroke="#000" stroke-width="2.2" stroke-linecap="butt"/>
<text x="498.40" y="711.69" font-family="Liberation Sans, Arial, sans-serif" font-size="17.2" font-weight="bold" font-style="normal" text-anchor="end">0.0</text>
<line x1="501.70" y1="644.80" x2="506.40" y2="644.80" stroke="#000" stroke-width="2.2" stroke-linecap="butt"/>
<text x="498.40" y="650.99" font-family="Liberation Sans, Arial, sans-serif" font-size="17.2" font-weight="bold" font-style="normal" text-anchor="end">0.5</text>
<line x1="501.70" y1="584.10" x2="506.40" y2="584.10" stroke="#000" stroke-width="2.2" stroke-linecap="butt"/>
<text x="498.40" y="590.29" font-family="Liberation Sans, Arial, sans-serif" font-size="17.2" font-weight="bold" font-style="normal" text-anchor="end">1.0</text>
<line x1="501.70" y1="523.40" x2="506.40" y2="523.40" stroke="#000" stroke-width="2.2" stroke-linecap="butt"/>
<text x="498.40" y="529.59" font-family="Liberation Sans, Arial, sans-serif" font-size="17.2" font-weight="bold" font-style="normal" text-anchor="end">1.5</text>
<line x1="547.90" y1="705.50" x2="547.90" y2="710.20" stroke="#000" stroke-width="2.2" stroke-linecap="butt"/>
<text x="552.10" y="724.10" font-family="Liberation Sans, Arial, sans-serif" font-size="17.4" font-weight="bold" font-style="normal" text-anchor="end" transform="rotate(-45 552.10 724.10)">Control</text>
<line x1="610.85" y1="705.50" x2="610.85" y2="710.20" stroke="#000" stroke-width="2.2" stroke-linecap="butt"/>
<text x="615.05" y="724.10" font-family="Liberation Sans, Arial, sans-serif" font-size="17.4" font-weight="bold" font-style="normal" text-anchor="end" transform="rotate(-45 615.05 724.10)">0.04% ripasudil</text>
<line x1="674.00" y1="705.50" x2="674.00" y2="710.20" stroke="#000" stroke-width="2.2" stroke-linecap="butt"/>
<text x="678.20" y="724.10" font-family="Liberation Sans, Arial, sans-serif" font-size="17.4" font-weight="bold" font-style="normal" text-anchor="end" transform="rotate(-45 678.20 724.10)">0.4% ripasudil</text>
<line x1="736.80" y1="705.50" x2="736.80" y2="710.20" stroke="#000" stroke-width="2.2" stroke-linecap="butt"/>
<text x="741.00" y="724.10" font-family="Liberation Sans, Arial, sans-serif" font-size="17.4" font-weight="bold" font-style="normal" text-anchor="end" transform="rotate(-45 741.00 724.10)">2.0% ripasudil</text>
<path d="M548.00 527.00 L548.00 508.70 L736.00 508.70 L736.00 647.00" fill="none" stroke="#000" stroke-width="2.0" stroke-linejoin="miter"/>
<path d="M548.00 559.00 L548.00 549.60 L678.00 549.60 L678.00 644.50" fill="none" stroke="#000" stroke-width="2.0" stroke-linejoin="miter"/>
<text x="640.00" y="505.09" font-family="Liberation Sans, Arial, sans-serif" font-size="24.5" font-weight="bold" font-style="normal" text-anchor="middle">***</text>
<text x="607.70" y="545.88" font-family="Liberation Sans, Arial, sans-serif" font-size="24.5" font-weight="bold" font-style="normal" text-anchor="middle">***</text>
<text transform="translate(436 612) rotate(-90)" font-family="Liberation Sans, Arial, sans-serif" font-size="22.3" text-anchor="middle">Relative expression of</text>
<text transform="translate(462.5 612) rotate(-90)" font-family="Liberation Sans, Arial, sans-serif" font-size="22" text-anchor="middle"><tspan font-style="italic">Cd11c</tspan> mRNA</text>
<text x="829.50" y="471.30" font-family="Liberation Sans, Arial, sans-serif" font-size="24.2" font-weight="bold" font-style="normal" text-anchor="start">E</text>
<line x1="928.50" y1="534.90" x2="928.50" y2="561.50" stroke="#000" stroke-width="1.6" stroke-linecap="butt"/>
<line x1="924.25" y1="534.90" x2="932.75" y2="534.90" stroke="#000" stroke-width="1.6" stroke-linecap="butt"/>
<rect x="923.50" y="561.50" width="10.00" height="143.50" fill="#a6a3b0" stroke="#000" stroke-width="2.0"/>
<line x1="948.70" y1="669.30" x2="948.70" y2="672.10" stroke="#000" stroke-width="1.6" stroke-linecap="butt"/>
<line x1="944.45" y1="669.30" x2="952.95" y2="669.30" stroke="#000" stroke-width="1.6" stroke-linecap="butt"/>
<rect x="943.70" y="672.10" width="10.00" height="32.90" fill="#76c8d2" stroke="#000" stroke-width="2.0"/>
<text transform="translate(954.5 652.3) rotate(-43)" x="0" y="9.22" font-family="Liberation Sans, Arial, sans-serif" font-size="17.4" text-anchor="middle" stroke="#000" stroke-width="0.3">***</text>
<line x1="968.90" y1="697.72" x2="968.90" y2="699.40" stroke="#000" stroke-width="1.6" stroke-linecap="butt"/>
<line x1="964.65" y1="697.72" x2="973.15" y2="697.72" stroke="#000" stroke-width="1.6" stroke-linecap="butt"/>
<rect x="963.90" y="699.40" width="10.00" height="5.60" fill="#5cbb90" stroke="#000" stroke-width="2.0"/>
<text transform="translate(974.6 680.8) rotate(-43)" x="0" y="9.22" font-family="Liberation Sans, Arial, sans-serif" font-size="17.4" text-anchor="middle" stroke="#000" stroke-width="0.3">***</text>
<line x1="989.10" y1="696.60" x2="989.10" y2="699.40" stroke="#000" stroke-width="1.6" stroke-linecap="butt"/>
<line x1="984.85" y1="696.60" x2="993.35" y2="696.60" stroke="#000" stroke-width="1.6" stroke-linecap="butt"/>
<rect x="984.10" y="699.40" width="10.00" height="5.60" fill="#07544b" stroke="#000" stroke-width="2.0"/>
<text transform="translate(994.9 680.8) rotate(-43)" x="0" y="9.22" font-family="Liberation Sans, Arial, sans-serif" font-size="17.4" text-anchor="middle" stroke="#000" stroke-width="0.3">***</text>
<line x1="1022.40" y1="557.30" x2="1022.40" y2="565.70" stroke="#000" stroke-width="1.6" stroke-linecap="butt"/>
<line x1="1018.15" y1="557.30" x2="1026.65" y2="557.30" stroke="#000" stroke-width="1.6" stroke-linecap="butt"/>
<rect x="1017.40" y="565.70" width="10.00" height="139.30" fill="#a6a3b0" stroke="#000" stroke-width="2.0"/>
<line x1="1042.60" y1="565.00" x2="1042.60" y2="576.90" stroke="#000" stroke-width="1.6" stroke-linecap="butt"/>
<line x1="1038.35" y1="565.00" x2="1046.85" y2="565.00" stroke="#000" stroke-width="1.6" stroke-linecap="butt"/>
<rect x="1037.60" y="576.90" width="10.00" height="128.10" fill="#76c8d2" stroke="#000" stroke-width="2.0"/>
<line x1="1062.80" y1="626.60" x2="1062.80" y2="630.80" stroke="#000" stroke-width="1.6" stroke-linecap="butt"/>
<line x1="1058.55" y1="626.60" x2="1067.05" y2="626.60" stroke="#000" stroke-width="1.6" stroke-linecap="butt"/>
<rect x="1057.80" y="630.80" width="10.00" height="74.20" fill="#5cbb90" stroke="#000" stroke-width="2.0"/>
<text transform="translate(1063.6 612.4) rotate(-43)" x="0" y="9.22" font-family="Liberation Sans, Arial, sans-serif" font-size="17.4" text-anchor="middle" stroke="#000" stroke-width="0.3">**</text>
<line x1="1083.00" y1="615.40" x2="1083.00" y2="622.40" stroke="#000" stroke-width="1.6" stroke-linecap="butt"/>
<line x1="1078.75" y1="615.40" x2="1087.25" y2="615.40" stroke="#000" stroke-width="1.6" stroke-linecap="butt"/>
<rect x="1078.00" y="622.40" width="10.00" height="82.60" fill="#07544b" stroke="#000" stroke-width="2.0"/>
<text transform="translate(1083.7 603.4) rotate(-43)" x="0" y="9.22" font-family="Liberation Sans, Arial, sans-serif" font-size="17.4" text-anchor="middle" stroke="#000" stroke-width="0.3">**</text>
<line x1="1116.30" y1="558.00" x2="1116.30" y2="565.70" stroke="#000" stroke-width="1.6" stroke-linecap="butt"/>
<line x1="1112.05" y1="558.00" x2="1120.55" y2="558.00" stroke="#000" stroke-width="1.6" stroke-linecap="butt"/>
<rect x="1111.30" y="565.70" width="10.00" height="139.30" fill="#a6a3b0" stroke="#000" stroke-width="2.0"/>
<line x1="1136.50" y1="618.90" x2="1136.50" y2="625.20" stroke="#000" stroke-width="1.6" stroke-linecap="butt"/>
<line x1="1132.25" y1="618.90" x2="1140.75" y2="618.90" stroke="#000" stroke-width="1.6" stroke-linecap="butt"/>
<rect x="1131.50" y="625.20" width="10.00" height="79.80" fill="#76c8d2" stroke="#000" stroke-width="2.0"/>
<text transform="translate(1136.1 605.9) rotate(-43)" x="0" y="9.22" font-family="Liberation Sans, Arial, sans-serif" font-size="17.4" text-anchor="middle" stroke="#000" stroke-width="0.3">***</text>
<line x1="1156.70" y1="692.12" x2="1156.70" y2="694.08" stroke="#000" stroke-width="1.6" stroke-linecap="butt"/>
<line x1="1152.45" y1="692.12" x2="1160.95" y2="692.12" stroke="#000" stroke-width="1.6" stroke-linecap="butt"/>
<rect x="1151.70" y="694.08" width="10.00" height="10.92" fill="#5cbb90" stroke="#000" stroke-width="2.0"/>
<text transform="translate(1156.2 681.0) rotate(-43)" x="0" y="9.22" font-family="Liberation Sans, Arial, sans-serif" font-size="17.4" text-anchor="middle" stroke="#000" stroke-width="0.3">***</text>
<line x1="1176.90" y1="694.92" x2="1176.90" y2="696.88" stroke="#000" stroke-width="1.6" stroke-linecap="butt"/>
<line x1="1172.65" y1="694.92" x2="1181.15" y2="694.92" stroke="#000" stroke-width="1.6" stroke-linecap="butt"/>
<rect x="1171.90" y="696.88" width="10.00" height="8.12" fill="#07544b" stroke="#000" stroke-width="2.0"/>
<text transform="translate(1177.8 681.0) rotate(-43)" x="0" y="9.22" font-family="Liberation Sans, Arial, sans-serif" font-size="17.4" text-anchor="middle" stroke="#000" stroke-width="0.3">***</text>
<line x1="1210.20" y1="562.20" x2="1210.20" y2="565.70" stroke="#000" stroke-width="1.6" stroke-linecap="butt"/>
<line x1="1205.95" y1="562.20" x2="1214.45" y2="562.20" stroke="#000" stroke-width="1.6" stroke-linecap="butt"/>
<rect x="1205.20" y="565.70" width="10.00" height="139.30" fill="#a6a3b0" stroke="#000" stroke-width="2.0"/>
<line x1="1230.40" y1="627.30" x2="1230.40" y2="637.10" stroke="#000" stroke-width="1.6" stroke-linecap="butt"/>
<line x1="1226.15" y1="627.30" x2="1234.65" y2="627.30" stroke="#000" stroke-width="1.6" stroke-linecap="butt"/>
<rect x="1225.40" y="637.10" width="10.00" height="67.90" fill="#76c8d2" stroke="#000" stroke-width="2.0"/>
<text transform="translate(1230.4 618.6) rotate(0)" x="0" y="9.22" font-family="Liberation Sans, Arial, sans-serif" font-size="17.4" text-anchor="middle" stroke="#000" stroke-width="0.3">*</text>
<line x1="1250.60" y1="617.50" x2="1250.60" y2="637.80" stroke="#000" stroke-width="1.6" stroke-linecap="butt"/>
<line x1="1246.35" y1="617.50" x2="1254.85" y2="617.50" stroke="#000" stroke-width="1.6" stroke-linecap="butt"/>
<rect x="1245.60" y="637.80" width="10.00" height="67.20" fill="#5cbb90" stroke="#000" stroke-width="2.0"/>
<text transform="translate(1250.0 607.6) rotate(0)" x="0" y="9.22" font-family="Liberation Sans, Arial, sans-serif" font-size="17.4" text-anchor="middle" stroke="#000" stroke-width="0.3">*</text>
<line x1="1270.80" y1="638.50" x2="1270.80" y2="649.00" stroke="#000" stroke-width="1.6" stroke-linecap="butt"/>
<line x1="1266.55" y1="638.50" x2="1275.05" y2="638.50" stroke="#000" stroke-width="1.6" stroke-linecap="butt"/>
<rect x="1265.80" y="649.00" width="10.00" height="56.00" fill="#07544b" stroke="#000" stroke-width="2.0"/>
<text transform="translate(1269.4 627.4) rotate(-43)" x="0" y="9.22" font-family="Liberation Sans, Arial, sans-serif" font-size="17.4" text-anchor="middle" stroke="#000" stroke-width="0.3">**</text>
<line x1="1304.10" y1="541.90" x2="1304.10" y2="563.60" stroke="#000" stroke-width="1.6" stroke-linecap="butt"/>
<line x1="1299.85" y1="541.90" x2="1308.35" y2="541.90" stroke="#000" stroke-width="1.6" stroke-linecap="butt"/>
<rect x="1299.10" y="563.60" width="10.00" height="141.40" fill="#a6a3b0" stroke="#000" stroke-width="2.0"/>
<line x1="1324.30" y1="654.60" x2="1324.30" y2="661.60" stroke="#000" stroke-width="1.6" stroke-linecap="butt"/>
<line x1="1320.05" y1="654.60" x2="1328.55" y2="654.60" stroke="#000" stroke-width="1.6" stroke-linecap="butt"/>
<rect x="1319.30" y="661.60" width="10.00" height="43.40" fill="#76c8d2" stroke="#000" stroke-width="2.0"/>
<text transform="translate(1324.7 644.1) rotate(-43)" x="0" y="9.22" font-family="Liberation Sans, Arial, sans-serif" font-size="17.4" text-anchor="middle" stroke="#000" stroke-width="0.3">**</text>
<line x1="1344.50" y1="684.00" x2="1344.50" y2="688.90" stroke="#000" stroke-width="1.6" stroke-linecap="butt"/>
<line x1="1340.25" y1="684.00" x2="1348.75" y2="684.00" stroke="#000" stroke-width="1.6" stroke-linecap="butt"/>
<rect x="1339.50" y="688.90" width="10.00" height="16.10" fill="#5cbb90" stroke="#000" stroke-width="2.0"/>
<text transform="translate(1344.4 671.8) rotate(-43)" x="0" y="9.22" font-family="Liberation Sans, Arial, sans-serif" font-size="17.4" text-anchor="middle" stroke="#000" stroke-width="0.3">***</text>
<line x1="1364.70" y1="669.30" x2="1364.70" y2="676.30" stroke="#000" stroke-width="1.6" stroke-linecap="butt"/>
<line x1="1360.45" y1="669.30" x2="1368.95" y2="669.30" stroke="#000" stroke-width="1.6" stroke-linecap="butt"/>
<rect x="1359.70" y="676.30" width="10.00" height="28.70" fill="#07544b" stroke="#000" stroke-width="2.0"/>
<text transform="translate(1364.0 656.3) rotate(-43)" x="0" y="9.22" font-family="Liberation Sans, Arial, sans-serif" font-size="17.4" text-anchor="middle" stroke="#000" stroke-width="0.3">***</text>
<line x1="1398.00" y1="551.70" x2="1398.00" y2="565.00" stroke="#000" stroke-width="1.6" stroke-linecap="butt"/>
<line x1="1393.75" y1="551.70" x2="1402.25" y2="551.70" stroke="#000" stroke-width="1.6" stroke-linecap="butt"/>
<rect x="1393.00" y="565.00" width="10.00" height="140.00" fill="#a6a3b0" stroke="#000" stroke-width="2.0"/>
<line x1="1418.20" y1="646.20" x2="1418.20" y2="651.10" stroke="#000" stroke-width="1.6" stroke-linecap="butt"/>
<line x1="1413.95" y1="646.20" x2="1422.45" y2="646.20" stroke="#000" stroke-width="1.6" stroke-linecap="butt"/>
<rect x="1413.20" y="651.10" width="10.00" height="53.90" fill="#76c8d2" stroke="#000" stroke-width="2.0"/>
<text transform="translate(1416.8 633.6) rotate(-43)" x="0" y="9.22" font-family="Liberation Sans, Arial, sans-serif" font-size="17.4" text-anchor="middle" stroke="#000" stroke-width="0.3">***</text>
<line x1="1438.40" y1="669.02" x2="1438.40" y2="676.30" stroke="#000" stroke-width="1.6" stroke-linecap="butt"/>
<line x1="1434.15" y1="669.02" x2="1442.65" y2="669.02" stroke="#000" stroke-width="1.6" stroke-linecap="butt"/>
<rect x="1433.40" y="676.30" width="10.00" height="28.70" fill="#5cbb90" stroke="#000" stroke-width="2.0"/>
<text transform="translate(1436.7 657.5) rotate(-43)" x="0" y="9.22" font-family="Liberation Sans, Arial, sans-serif" font-size="17.4" text-anchor="middle" stroke="#000" stroke-width="0.3">***</text>
<line x1="1458.60" y1="665.80" x2="1458.60" y2="668.60" stroke="#000" stroke-width="1.6" stroke-linecap="butt"/>
<line x1="1454.35" y1="665.80" x2="1462.85" y2="665.80" stroke="#000" stroke-width="1.6" stroke-linecap="butt"/>
<rect x="1453.60" y="668.60" width="10.00" height="36.40" fill="#07544b" stroke="#000" stroke-width="2.0"/>
<text transform="translate(1457.3 654.8) rotate(-43)" x="0" y="9.22" font-family="Liberation Sans, Arial, sans-serif" font-size="17.4" text-anchor="middle" stroke="#000" stroke-width="0.3">***</text>
<line x1="913.90" y1="705.00" x2="1473.00" y2="705.00" stroke="#000" stroke-width="2.2" stroke-linecap="butt"/>
<line x1="915.00" y1="492.90" x2="915.00" y2="706.10" stroke="#000" stroke-width="2.2" stroke-linecap="butt"/>
<line x1="910.30" y1="705.00" x2="915.00" y2="705.00" stroke="#000" stroke-width="2.2" stroke-linecap="butt"/>
<text x="907.00" y="711.19" font-family="Liberation Sans, Arial, sans-serif" font-size="17.2" font-weight="bold" font-style="normal" text-anchor="end">0.0</text>
<line x1="910.30" y1="635.00" x2="915.00" y2="635.00" stroke="#000" stroke-width="2.2" stroke-linecap="butt"/>
<text x="907.00" y="641.19" font-family="Liberation Sans, Arial, sans-serif" font-size="17.2" font-weight="bold" font-style="normal" text-anchor="end">0.5</text>
<line x1="910.30" y1="565.00" x2="915.00" y2="565.00" stroke="#000" stroke-width="2.2" stroke-linecap="butt"/>
<text x="907.00" y="571.19" font-family="Liberation Sans, Arial, sans-serif" font-size="17.2" font-weight="bold" font-style="normal" text-anchor="end">1.0</text>
<line x1="910.30" y1="495.00" x2="915.00" y2="495.00" stroke="#000" stroke-width="2.2" stroke-linecap="butt"/>
<text x="907.00" y="501.19" font-family="Liberation Sans, Arial, sans-serif" font-size="17.2" font-weight="bold" font-style="normal" text-anchor="end">1.5</text>
<line x1="958.80" y1="705.00" x2="958.80" y2="709.70" stroke="#000" stroke-width="2.2" stroke-linecap="butt"/>
<text x="964.80" y="727.50" font-family="Liberation Sans, Arial, sans-serif" font-size="21" font-weight="bold" font-style="italic" text-anchor="end" transform="rotate(-41 964.80 727.50)">Ifnγ</text>
<line x1="1052.70" y1="705.00" x2="1052.70" y2="709.70" stroke="#000" stroke-width="2.2" stroke-linecap="butt"/>
<text x="1058.70" y="727.50" font-family="Liberation Sans, Arial, sans-serif" font-size="21" font-weight="bold" font-style="italic" text-anchor="end" transform="rotate(-41 1058.70 727.50)">Tnf-α</text>
<line x1="1146.60" y1="705.00" x2="1146.60" y2="709.70" stroke="#000" stroke-width="2.2" stroke-linecap="butt"/>
<text x="1152.60" y="727.50" font-family="Liberation Sans, Arial, sans-serif" font-size="21" font-weight="bold" font-style="italic" text-anchor="end" transform="rotate(-41 1152.60 727.50)">Il1β</text>
<line x1="1240.50" y1="705.00" x2="1240.50" y2="709.70" stroke="#000" stroke-width="2.2" stroke-linecap="butt"/>
<text x="1246.50" y="727.50" font-family="Liberation Sans, Arial, sans-serif" font-size="21" font-weight="bold" font-style="italic" text-anchor="end" transform="rotate(-41 1246.50 727.50)">Il17</text>
<line x1="1334.40" y1="705.00" x2="1334.40" y2="709.70" stroke="#000" stroke-width="2.2" stroke-linecap="butt"/>
<text x="1340.40" y="727.50" font-family="Liberation Sans, Arial, sans-serif" font-size="21" font-weight="bold" font-style="italic" text-anchor="end" transform="rotate(-41 1340.40 727.50)">Il23</text>
<line x1="1428.30" y1="705.00" x2="1428.30" y2="709.70" stroke="#000" stroke-width="2.2" stroke-linecap="butt"/>
<text x="1434.30" y="727.50" font-family="Liberation Sans, Arial, sans-serif" font-size="21" font-weight="bold" font-style="italic" text-anchor="end" transform="rotate(-41 1434.30 727.50)">Il33</text>
<text transform="translate(841 612.8) rotate(-90)" font-family="Liberation Sans, Arial, sans-serif" font-size="22.3" text-anchor="middle">Relative mRNA levels</text>
<text transform="translate(869 605.8) rotate(-90)" font-family="Liberation Sans, Arial, sans-serif" font-size="22.4" text-anchor="middle">(fold change)</text>
<rect x="1479.40" y="478.00" width="22.80" height="12.20" fill="#a6a3b0" stroke="#000" stroke-width="1.9"/>
<text x="1514.50" y="489.90" font-family="Liberation Sans, Arial, sans-serif" font-size="17.0" font-weight="normal" font-style="normal" text-anchor="start">Control</text>
<rect x="1479.40" y="507.00" width="22.80" height="12.20" fill="#76c8d2" stroke="#000" stroke-width="1.9"/>
<text x="1514.50" y="518.90" font-family="Liberation Sans, Arial, sans-serif" font-size="17.0" font-weight="normal" font-style="normal" text-anchor="start">0.04% ripasudil</text>
<rect x="1479.40" y="537.00" width="22.80" height="12.20" fill="#5cbb90" stroke="#000" stroke-width="1.9"/>
<text x="1514.50" y="548.90" font-family="Liberation Sans, Arial, sans-serif" font-size="17.0" font-weight="normal" font-style="normal" text-anchor="start">0.4% ripasudil</text>
<rect x="1479.40" y="566.20" width="22.80" height="12.20" fill="#07544b" stroke="#000" stroke-width="1.9"/>
<text x="1514.50" y="578.10" font-family="Liberation Sans, Arial, sans-serif" font-size="17.0" font-weight="normal" font-style="normal" text-anchor="start">2.0% ripasudil</text>
<text x="1669.30" y="480.30" font-family="Liberation Sans, Arial, sans-serif" font-size="24.2" font-weight="bold" font-style="normal" text-anchor="start">F</text>
<line x1="1776.50" y1="630.50" x2="1776.50" y2="632.00" stroke="#000" stroke-width="1.6" stroke-linecap="butt"/>
<line x1="1765.58" y1="630.50" x2="1787.42" y2="630.50" stroke="#000" stroke-width="1.6" stroke-linecap="butt"/>
<rect x="1757.25" y="632.00" width="38.50" height="71.60" fill="#a6a3b0" stroke="#000" stroke-width="2.0"/>
<line x1="1839.35" y1="638.50" x2="1839.35" y2="641.30" stroke="#000" stroke-width="1.6" stroke-linecap="butt"/>
<line x1="1828.35" y1="638.50" x2="1850.35" y2="638.50" stroke="#000" stroke-width="1.6" stroke-linecap="butt"/>
<rect x="1819.95" y="641.30" width="38.80" height="62.30" fill="#76c8d2" stroke="#000" stroke-width="2.0"/>
<line x1="1902.05" y1="594.60" x2="1902.05" y2="598.40" stroke="#000" stroke-width="1.6" stroke-linecap="butt"/>
<line x1="1891.10" y1="594.60" x2="1913.00" y2="594.60" stroke="#000" stroke-width="1.6" stroke-linecap="butt"/>
<rect x="1882.75" y="598.40" width="38.60" height="105.20" fill="#5cbb90" stroke="#000" stroke-width="2.0"/>
<line x1="1964.90" y1="557.40" x2="1964.90" y2="565.80" stroke="#000" stroke-width="1.6" stroke-linecap="butt"/>
<line x1="1953.76" y1="557.40" x2="1976.04" y2="557.40" stroke="#000" stroke-width="1.6" stroke-linecap="butt"/>
<rect x="1945.25" y="565.80" width="39.30" height="137.80" fill="#07544b" stroke="#000" stroke-width="2.0"/>
<line x1="1733.10" y1="703.60" x2="2007.00" y2="703.60" stroke="#000" stroke-width="2.2" stroke-linecap="butt"/>
<line x1="1734.20" y1="520.40" x2="1734.20" y2="704.70" stroke="#000" stroke-width="2.2" stroke-linecap="butt"/>
<line x1="1729.90" y1="703.60" x2="1734.20" y2="703.60" stroke="#000" stroke-width="2.2" stroke-linecap="butt"/>
<text x="1726.90" y="708.64" font-family="Liberation Sans, Arial, sans-serif" font-size="14.0" font-weight="bold" font-style="normal" text-anchor="end">0.0</text>
<line x1="1729.90" y1="667.18" x2="1734.20" y2="667.18" stroke="#000" stroke-width="2.2" stroke-linecap="butt"/>
<text x="1726.90" y="672.22" font-family="Liberation Sans, Arial, sans-serif" font-size="14.0" font-weight="bold" font-style="normal" text-anchor="end">0.5</text>
<line x1="1729.90" y1="630.76" x2="1734.20" y2="630.76" stroke="#000" stroke-width="2.2" stroke-linecap="butt"/>
<text x="1726.90" y="635.80" font-family="Liberation Sans, Arial, sans-serif" font-size="14.0" font-weight="bold" font-style="normal" text-anchor="end">1.0</text>
<line x1="1729.90" y1="594.34" x2="1734.20" y2="594.34" stroke="#000" stroke-width="2.2" stroke-linecap="butt"/>
<text x="1726.90" y="599.38" font-family="Liberation Sans, Arial, sans-serif" font-size="14.0" font-weight="bold" font-style="normal" text-anchor="end">1.5</text>
<line x1="1729.90" y1="557.92" x2="1734.20" y2="557.92" stroke="#000" stroke-width="2.2" stroke-linecap="butt"/>
<text x="1726.90" y="562.96" font-family="Liberation Sans, Arial, sans-serif" font-size="14.0" font-weight="bold" font-style="normal" text-anchor="end">2.0</text>
<line x1="1729.90" y1="521.50" x2="1734.20" y2="521.50" stroke="#000" stroke-width="2.2" stroke-linecap="butt"/>
<text x="1726.90" y="526.54" font-family="Liberation Sans, Arial, sans-serif" font-size="14.0" font-weight="bold" font-style="normal" text-anchor="end">2.5</text>
<line x1="1776.50" y1="703.60" x2="1776.50" y2="708.30" stroke="#000" stroke-width="2.2" stroke-linecap="butt"/>
<text x="1780.70" y="722.20" font-family="Liberation Sans, Arial, sans-serif" font-size="17.4" font-weight="bold" font-style="normal" text-anchor="end" transform="rotate(-45 1780.70 722.20)">Control</text>
<line x1="1839.35" y1="703.60" x2="1839.35" y2="708.30" stroke="#000" stroke-width="2.2" stroke-linecap="butt"/>
<text x="1843.55" y="722.20" font-family="Liberation Sans, Arial, sans-serif" font-size="17.4" font-weight="bold" font-style="normal" text-anchor="end" transform="rotate(-45 1843.55 722.20)">0.04% ripasudil</text>
<line x1="1902.05" y1="703.60" x2="1902.05" y2="708.30" stroke="#000" stroke-width="2.2" stroke-linecap="butt"/>
<text x="1906.25" y="722.20" font-family="Liberation Sans, Arial, sans-serif" font-size="17.4" font-weight="bold" font-style="normal" text-anchor="end" transform="rotate(-45 1906.25 722.20)">0.4% ripasudil</text>
<line x1="1964.90" y1="703.60" x2="1964.90" y2="708.30" stroke="#000" stroke-width="2.2" stroke-linecap="butt"/>
<text x="1969.10" y="722.20" font-family="Liberation Sans, Arial, sans-serif" font-size="17.4" font-weight="bold" font-style="normal" text-anchor="end" transform="rotate(-45 1969.10 722.20)">2.0% ripasudil</text>
<path d="M1900.00 480.20 L1900.00 473.90 L1964.00 473.90 L1964.00 480.20" fill="none" stroke="#000" stroke-width="2.0" stroke-linejoin="miter"/>
<path d="M1835.30 512.00 L1835.30 505.50 L1964.00 505.50 L1964.00 512.00" fill="none" stroke="#000" stroke-width="2.0" stroke-linejoin="miter"/>
<path d="M1774.00 539.30 L1774.00 532.40 L1964.00 532.40 L1964.00 539.30" fill="none" stroke="#000" stroke-width="2.0" stroke-linejoin="miter"/>
<path d="M1774.00 575.60 L1774.00 569.00 L1902.00 569.00 L1902.00 575.60" fill="none" stroke="#000" stroke-width="2.0" stroke-linejoin="miter"/>
<text x="1931.50" y="477.69" font-family="Liberation Sans, Arial, sans-serif" font-size="24.5" font-weight="bold" font-style="normal" text-anchor="middle">**</text>
<text x="1899.40" y="506.99" font-family="Liberation Sans, Arial, sans-serif" font-size="24.5" font-weight="bold" font-style="normal" text-anchor="middle">***</text>
<text x="1868.00" y="536.68" font-family="Liberation Sans, Arial, sans-serif" font-size="24.5" font-weight="bold" font-style="normal" text-anchor="middle">***</text>
<text x="1837.00" y="571.58" font-family="Liberation Sans, Arial, sans-serif" font-size="24.5" font-weight="bold" font-style="normal" text-anchor="middle">**</text>
<text transform="translate(1671.7 612) rotate(-90)" font-family="Liberation Sans, Arial, sans-serif" font-size="22.3" text-anchor="middle">Relative expression of</text>
<text transform="translate(1696.8 612) rotate(-90)" font-family="Liberation Sans, Arial, sans-serif" font-size="22" text-anchor="middle"><tspan font-style="italic">Il10</tspan> mRNA</text>
</svg>
</body></html>
